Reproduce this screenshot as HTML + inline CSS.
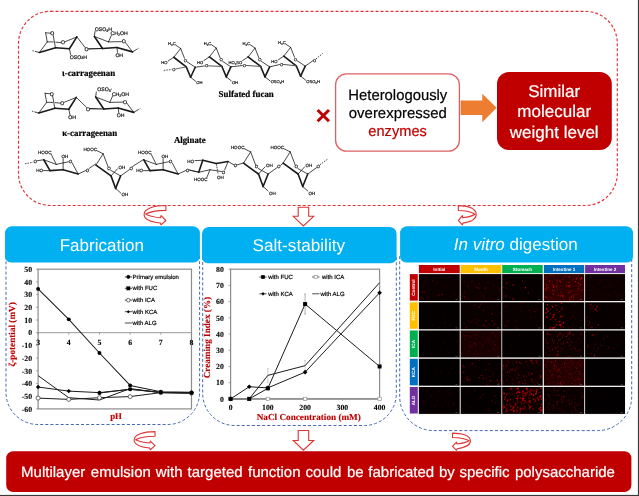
<!DOCTYPE html>
<html lang="en">
<head>
<meta charset="utf-8">
<title>Graphical abstract</title>
<style>
html,body{margin:0;padding:0;background:#fff;}
body{width:639px;height:496px;overflow:hidden;font-family:'Liberation Sans', sans-serif;}
svg{display:block;}
text{white-space:pre;}
</style>
</head>
<body>
<svg width="639" height="496" viewBox="0 0 639 496" text-rendering="geometricPrecision">
<rect x="0" y="0" width="639" height="496" fill="#fff"/>
<rect x="18.5" y="11.3" width="598.8" height="194.2" rx="32" ry="32" fill="none" stroke="#E23238" stroke-width="1.15" stroke-dasharray="3 2"/>
<line x1="32.5" y1="50.62" x2="36" y2="51.62" stroke="#1a1a1a" stroke-width="0.8" stroke-dasharray="1.5 1.1" stroke-linecap="butt"/>
<line x1="36" y1="51.62" x2="39.38" y2="52.5" stroke="#1a1a1a" stroke-width="0.8" stroke-linecap="round"/>
<line x1="39.38" y1="52.5" x2="47.25" y2="41.88" stroke="#1a1a1a" stroke-width="0.8" stroke-linecap="round"/>
<line x1="47.25" y1="41.88" x2="45.62" y2="32.75" stroke="#1a1a1a" stroke-width="0.8" stroke-linecap="round"/>
<line x1="45.62" y1="32.75" x2="50.38" y2="33.25" stroke="#1a1a1a" stroke-width="0.8" stroke-linecap="round"/>
<line x1="53.25" y1="35.5" x2="55.38" y2="47.5" stroke="#1a1a1a" stroke-width="0.8" stroke-linecap="round"/>
<line x1="47.25" y1="41.88" x2="53.25" y2="41.88" stroke="#1a1a1a" stroke-width="0.8" stroke-linecap="round"/>
<line x1="55.75" y1="42.12" x2="60.75" y2="42.62" stroke="#1a1a1a" stroke-width="0.8" stroke-linecap="round"/>
<line x1="65" y1="41.75" x2="76.88" y2="36.88" stroke="#1a1a1a" stroke-width="0.8" stroke-linecap="round"/>
<line x1="76.88" y1="36.88" x2="69.38" y2="48.75" stroke="#1a1a1a" stroke-width="1.6" stroke-linecap="round"/>
<line x1="39.38" y1="52.5" x2="55.62" y2="47.75" stroke="#1a1a1a" stroke-width="1.6" stroke-linecap="round"/>
<line x1="55.62" y1="47.75" x2="69.38" y2="48.75" stroke="#1a1a1a" stroke-width="1.6" stroke-linecap="round"/>
<line x1="69.38" y1="48.75" x2="70.62" y2="54.5" stroke="#1a1a1a" stroke-width="0.8" stroke-linecap="round"/>
<line x1="76.88" y1="36.88" x2="85.12" y2="47.52" stroke="#1a1a1a" stroke-width="0.8" stroke-linecap="round"/>
<line x1="88.62" y1="48.92" x2="102.5" y2="48.5" stroke="#1a1a1a" stroke-width="1.1" stroke-linecap="round"/>
<line x1="102.5" y1="48.5" x2="94.38" y2="36.5" stroke="#1a1a1a" stroke-width="1.6" stroke-linecap="round"/>
<line x1="94.38" y1="36.5" x2="95" y2="31.5" stroke="#1a1a1a" stroke-width="0.8" stroke-linecap="round"/>
<line x1="94.38" y1="36.5" x2="108.5" y2="41.88" stroke="#1a1a1a" stroke-width="0.8" stroke-linecap="round"/>
<line x1="108.5" y1="41.88" x2="121.5" y2="41.62" stroke="#1a1a1a" stroke-width="0.8" stroke-linecap="round"/>
<line x1="108.5" y1="41.88" x2="111.25" y2="35.62" stroke="#1a1a1a" stroke-width="0.8" stroke-linecap="round"/>
<line x1="125.62" y1="42.75" x2="132.5" y2="51.88" stroke="#1a1a1a" stroke-width="0.8" stroke-linecap="round"/>
<line x1="102.5" y1="48.5" x2="116.88" y2="47.5" stroke="#1a1a1a" stroke-width="1.6" stroke-linecap="round"/>
<line x1="116.88" y1="47.5" x2="132.5" y2="51.88" stroke="#1a1a1a" stroke-width="1.6" stroke-linecap="round"/>
<line x1="116.88" y1="47.5" x2="117.5" y2="52.25" stroke="#1a1a1a" stroke-width="0.8" stroke-linecap="round"/>
<line x1="132.5" y1="51.88" x2="136.25" y2="49.62" stroke="#1a1a1a" stroke-width="0.8" stroke-linecap="round"/>
<line x1="136.25" y1="49.62" x2="139" y2="48" stroke="#1a1a1a" stroke-width="0.8" stroke-dasharray="1.5 1.1" stroke-linecap="butt"/>
<line x1="31.9" y1="111.12" x2="35.4" y2="112.12" stroke="#1a1a1a" stroke-width="0.8" stroke-dasharray="1.5 1.1" stroke-linecap="butt"/>
<line x1="35.4" y1="112.12" x2="38.77" y2="113" stroke="#1a1a1a" stroke-width="0.8" stroke-linecap="round"/>
<line x1="38.77" y1="113" x2="46.65" y2="102.38" stroke="#1a1a1a" stroke-width="0.8" stroke-linecap="round"/>
<line x1="46.65" y1="102.38" x2="45.02" y2="93.25" stroke="#1a1a1a" stroke-width="0.8" stroke-linecap="round"/>
<line x1="45.02" y1="93.25" x2="49.77" y2="93.75" stroke="#1a1a1a" stroke-width="0.8" stroke-linecap="round"/>
<line x1="52.65" y1="96" x2="54.77" y2="108" stroke="#1a1a1a" stroke-width="0.8" stroke-linecap="round"/>
<line x1="46.65" y1="102.38" x2="52.65" y2="102.38" stroke="#1a1a1a" stroke-width="0.8" stroke-linecap="round"/>
<line x1="55.15" y1="102.62" x2="60.15" y2="103.12" stroke="#1a1a1a" stroke-width="0.8" stroke-linecap="round"/>
<line x1="64.4" y1="102.25" x2="76.28" y2="97.38" stroke="#1a1a1a" stroke-width="0.8" stroke-linecap="round"/>
<line x1="76.28" y1="97.38" x2="68.78" y2="109.25" stroke="#1a1a1a" stroke-width="1.6" stroke-linecap="round"/>
<line x1="38.77" y1="113" x2="55.02" y2="108.25" stroke="#1a1a1a" stroke-width="1.6" stroke-linecap="round"/>
<line x1="55.02" y1="108.25" x2="68.78" y2="109.25" stroke="#1a1a1a" stroke-width="1.6" stroke-linecap="round"/>
<line x1="68.78" y1="109.25" x2="70.03" y2="115" stroke="#1a1a1a" stroke-width="0.8" stroke-linecap="round"/>
<line x1="76.28" y1="97.38" x2="86.4" y2="107.2" stroke="#1a1a1a" stroke-width="0.8" stroke-linecap="round"/>
<line x1="89.9" y1="108.6" x2="103.8" y2="109" stroke="#1a1a1a" stroke-width="1.1" stroke-linecap="round"/>
<line x1="103.8" y1="109" x2="95.67" y2="97" stroke="#1a1a1a" stroke-width="1.6" stroke-linecap="round"/>
<line x1="95.67" y1="97" x2="96.3" y2="92" stroke="#1a1a1a" stroke-width="0.8" stroke-linecap="round"/>
<line x1="95.67" y1="97" x2="109.8" y2="102.38" stroke="#1a1a1a" stroke-width="0.8" stroke-linecap="round"/>
<line x1="109.8" y1="102.38" x2="122.8" y2="102.12" stroke="#1a1a1a" stroke-width="0.8" stroke-linecap="round"/>
<line x1="109.8" y1="102.38" x2="112.55" y2="96.12" stroke="#1a1a1a" stroke-width="0.8" stroke-linecap="round"/>
<line x1="126.92" y1="103.25" x2="133.8" y2="112.38" stroke="#1a1a1a" stroke-width="0.8" stroke-linecap="round"/>
<line x1="103.8" y1="109" x2="118.17" y2="108" stroke="#1a1a1a" stroke-width="1.6" stroke-linecap="round"/>
<line x1="118.17" y1="108" x2="133.8" y2="112.38" stroke="#1a1a1a" stroke-width="1.6" stroke-linecap="round"/>
<line x1="118.17" y1="108" x2="118.8" y2="112.75" stroke="#1a1a1a" stroke-width="0.8" stroke-linecap="round"/>
<line x1="133.8" y1="112.38" x2="137.55" y2="110.12" stroke="#1a1a1a" stroke-width="0.8" stroke-linecap="round"/>
<line x1="137.55" y1="110.12" x2="140.3" y2="108.5" stroke="#1a1a1a" stroke-width="0.8" stroke-dasharray="1.5 1.1" stroke-linecap="butt"/>
<line x1="175.62" y1="45" x2="180.62" y2="48.5" stroke="#1a1a1a" stroke-width="0.8" stroke-linecap="round"/>
<line x1="180.62" y1="48.5" x2="173.75" y2="57.25" stroke="#1a1a1a" stroke-width="0.8" stroke-linecap="round"/>
<line x1="180.62" y1="48.5" x2="184.5" y2="58.25" stroke="#1a1a1a" stroke-width="0.8" stroke-linecap="round"/>
<line x1="173.75" y1="57.25" x2="168.12" y2="61" stroke="#1a1a1a" stroke-width="0.8" stroke-linecap="round"/>
<line x1="173.75" y1="57.25" x2="186.25" y2="66.88" stroke="#1a1a1a" stroke-width="1.6" stroke-linecap="round"/>
<line x1="187" y1="61.75" x2="195.25" y2="67.25" stroke="#1a1a1a" stroke-width="0.8" stroke-linecap="round"/>
<line x1="186.25" y1="66.88" x2="190.62" y2="77.25" stroke="#1a1a1a" stroke-width="1.6" stroke-linecap="round"/>
<line x1="195.25" y1="67.25" x2="190.62" y2="77.25" stroke="#1a1a1a" stroke-width="1.6" stroke-linecap="round"/>
<line x1="190.62" y1="77.25" x2="195.62" y2="81.25" stroke="#1a1a1a" stroke-width="0.8" stroke-linecap="round"/>
<line x1="186.25" y1="66.88" x2="175.75" y2="69" stroke="#555" stroke-width="0.9" stroke-linecap="round"/>
<line x1="163.75" y1="70.38" x2="171.75" y2="69.5" stroke="#1a1a1a" stroke-width="0.8" stroke-dasharray="1.5 1.1" stroke-linecap="butt"/>
<line x1="211.28" y1="44.6" x2="216.28" y2="48.1" stroke="#1a1a1a" stroke-width="0.8" stroke-linecap="round"/>
<line x1="216.28" y1="48.1" x2="209.4" y2="56.85" stroke="#1a1a1a" stroke-width="0.8" stroke-linecap="round"/>
<line x1="216.28" y1="48.1" x2="220.15" y2="57.85" stroke="#1a1a1a" stroke-width="0.8" stroke-linecap="round"/>
<line x1="209.4" y1="56.85" x2="203.78" y2="60.6" stroke="#1a1a1a" stroke-width="0.8" stroke-linecap="round"/>
<line x1="209.4" y1="56.85" x2="221.9" y2="66.47" stroke="#1a1a1a" stroke-width="1.6" stroke-linecap="round"/>
<line x1="222.65" y1="61.35" x2="230.9" y2="66.85" stroke="#1a1a1a" stroke-width="0.8" stroke-linecap="round"/>
<line x1="221.9" y1="66.47" x2="226.28" y2="76.85" stroke="#1a1a1a" stroke-width="1.6" stroke-linecap="round"/>
<line x1="230.9" y1="66.85" x2="226.28" y2="76.85" stroke="#1a1a1a" stroke-width="1.6" stroke-linecap="round"/>
<line x1="226.28" y1="76.85" x2="231.28" y2="80.85" stroke="#1a1a1a" stroke-width="0.8" stroke-linecap="round"/>
<line x1="250.03" y1="44.6" x2="255.03" y2="48.1" stroke="#1a1a1a" stroke-width="0.8" stroke-linecap="round"/>
<line x1="255.03" y1="48.1" x2="248.15" y2="56.85" stroke="#1a1a1a" stroke-width="0.8" stroke-linecap="round"/>
<line x1="255.03" y1="48.1" x2="258.9" y2="57.85" stroke="#1a1a1a" stroke-width="0.8" stroke-linecap="round"/>
<line x1="248.15" y1="56.85" x2="242.53" y2="60.6" stroke="#1a1a1a" stroke-width="0.8" stroke-linecap="round"/>
<line x1="248.15" y1="56.85" x2="260.65" y2="66.47" stroke="#1a1a1a" stroke-width="1.6" stroke-linecap="round"/>
<line x1="261.4" y1="61.35" x2="269.65" y2="66.85" stroke="#1a1a1a" stroke-width="0.8" stroke-linecap="round"/>
<line x1="260.65" y1="66.47" x2="265.02" y2="76.85" stroke="#1a1a1a" stroke-width="1.6" stroke-linecap="round"/>
<line x1="269.65" y1="66.85" x2="265.02" y2="76.85" stroke="#1a1a1a" stroke-width="1.6" stroke-linecap="round"/>
<line x1="265.02" y1="76.85" x2="270.02" y2="80.85" stroke="#1a1a1a" stroke-width="0.8" stroke-linecap="round"/>
<line x1="285.62" y1="43.9" x2="290.62" y2="47.4" stroke="#1a1a1a" stroke-width="0.8" stroke-linecap="round"/>
<line x1="290.62" y1="47.4" x2="283.75" y2="56.15" stroke="#1a1a1a" stroke-width="0.8" stroke-linecap="round"/>
<line x1="290.62" y1="47.4" x2="294.5" y2="57.15" stroke="#1a1a1a" stroke-width="0.8" stroke-linecap="round"/>
<line x1="283.75" y1="56.15" x2="278.12" y2="59.9" stroke="#1a1a1a" stroke-width="0.8" stroke-linecap="round"/>
<line x1="283.75" y1="56.15" x2="296.25" y2="65.78" stroke="#1a1a1a" stroke-width="1.6" stroke-linecap="round"/>
<line x1="297" y1="60.65" x2="305.25" y2="66.15" stroke="#1a1a1a" stroke-width="0.8" stroke-linecap="round"/>
<line x1="296.25" y1="65.78" x2="300.62" y2="76.15" stroke="#1a1a1a" stroke-width="1.6" stroke-linecap="round"/>
<line x1="305.25" y1="66.15" x2="300.62" y2="76.15" stroke="#1a1a1a" stroke-width="1.6" stroke-linecap="round"/>
<line x1="300.62" y1="76.15" x2="305.62" y2="80.15" stroke="#1a1a1a" stroke-width="0.8" stroke-linecap="round"/>
<line x1="305.25" y1="66.15" x2="313" y2="60.65" stroke="#1a1a1a" stroke-width="0.8" stroke-linecap="round"/>
<line x1="316" y1="58.9" x2="322.75" y2="53.4" stroke="#1a1a1a" stroke-width="0.8" stroke-dasharray="1.5 1.1" stroke-linecap="butt"/>
<line x1="195.25" y1="67.25" x2="204.5" y2="65.95" stroke="#1a1a1a" stroke-width="0.8" stroke-linecap="round"/>
<line x1="208.4" y1="65.85" x2="221.9" y2="66.47" stroke="#555" stroke-width="1.0" stroke-linecap="round"/>
<line x1="230.9" y1="66.85" x2="242.4" y2="65.55" stroke="#1a1a1a" stroke-width="0.8" stroke-linecap="round"/>
<line x1="246.3" y1="65.45" x2="260.65" y2="66.47" stroke="#555" stroke-width="1.0" stroke-linecap="round"/>
<line x1="269.65" y1="66.85" x2="279.5" y2="64.55" stroke="#1a1a1a" stroke-width="0.8" stroke-linecap="round"/>
<line x1="283.4" y1="64.45" x2="296.25" y2="65.78" stroke="#555" stroke-width="1.0" stroke-linecap="round"/>
<line x1="25" y1="163.75" x2="33" y2="162.25" stroke="#1a1a1a" stroke-width="0.8" stroke-dasharray="1.5 1.1" stroke-linecap="butt"/>
<line x1="37.25" y1="160.75" x2="43.75" y2="159.75" stroke="#1a1a1a" stroke-width="0.8" stroke-linecap="round"/>
<line x1="43.75" y1="159.75" x2="50" y2="170.62" stroke="#1a1a1a" stroke-width="1.6" stroke-linecap="round"/>
<line x1="50" y1="170.62" x2="43.5" y2="170.62" stroke="#1a1a1a" stroke-width="0.8" stroke-linecap="round"/>
<line x1="50" y1="170.62" x2="63.12" y2="169.75" stroke="#1a1a1a" stroke-width="1.6" stroke-linecap="round"/>
<line x1="63.12" y1="169.75" x2="63.12" y2="159" stroke="#1a1a1a" stroke-width="0.8" stroke-linecap="round"/>
<line x1="63.12" y1="169.75" x2="78.12" y2="174" stroke="#1a1a1a" stroke-width="1.6" stroke-linecap="round"/>
<line x1="43.75" y1="159.75" x2="56.25" y2="164.38" stroke="#1a1a1a" stroke-width="0.8" stroke-linecap="round"/>
<line x1="56.25" y1="164.38" x2="51.25" y2="154.38" stroke="#1a1a1a" stroke-width="0.8" stroke-linecap="round"/>
<line x1="56.25" y1="164.38" x2="68.5" y2="161.75" stroke="#1a1a1a" stroke-width="0.8" stroke-linecap="round"/>
<line x1="72.25" y1="163" x2="78.12" y2="174" stroke="#1a1a1a" stroke-width="0.8" stroke-linecap="round"/>
<line x1="78.12" y1="174" x2="85.62" y2="170.62" stroke="#1a1a1a" stroke-width="0.8" stroke-linecap="round"/>
<line x1="89" y1="168.5" x2="95.62" y2="164" stroke="#1a1a1a" stroke-width="0.8" stroke-linecap="round"/>
<line x1="96.88" y1="150.65" x2="103.12" y2="153.78" stroke="#1a1a1a" stroke-width="0.8" stroke-linecap="round"/>
<line x1="103.12" y1="153.78" x2="96" y2="165.03" stroke="#1a1a1a" stroke-width="0.8" stroke-linecap="round"/>
<line x1="103.12" y1="153.78" x2="108.12" y2="166.9" stroke="#1a1a1a" stroke-width="0.8" stroke-linecap="round"/>
<line x1="96" y1="165.03" x2="111" y2="175.9" stroke="#1a1a1a" stroke-width="1.6" stroke-linecap="round"/>
<line x1="111" y1="175.9" x2="115.62" y2="188.4" stroke="#1a1a1a" stroke-width="1.6" stroke-linecap="round"/>
<line x1="115.62" y1="188.4" x2="120.62" y2="175.9" stroke="#1a1a1a" stroke-width="1.6" stroke-linecap="round"/>
<line x1="110.75" y1="170.4" x2="120.62" y2="175.9" stroke="#1a1a1a" stroke-width="0.8" stroke-linecap="round"/>
<line x1="111" y1="175.9" x2="117.5" y2="168.78" stroke="#1a1a1a" stroke-width="0.8" stroke-linecap="round"/>
<line x1="115.62" y1="188.4" x2="120.62" y2="192.9" stroke="#1a1a1a" stroke-width="0.8" stroke-linecap="round"/>
<line x1="120.62" y1="175.9" x2="129.38" y2="169.65" stroke="#1a1a1a" stroke-width="0.8" stroke-linecap="round"/>
<line x1="132.5" y1="166.5" x2="143.12" y2="159.75" stroke="#1a1a1a" stroke-width="0.8" stroke-linecap="round"/>
<line x1="143.75" y1="159.75" x2="150" y2="170.62" stroke="#1a1a1a" stroke-width="1.6" stroke-linecap="round"/>
<line x1="150" y1="170.62" x2="143.5" y2="170.62" stroke="#1a1a1a" stroke-width="0.8" stroke-linecap="round"/>
<line x1="150" y1="170.62" x2="163.12" y2="169.75" stroke="#1a1a1a" stroke-width="1.6" stroke-linecap="round"/>
<line x1="163.12" y1="169.75" x2="163.12" y2="159" stroke="#1a1a1a" stroke-width="0.8" stroke-linecap="round"/>
<line x1="163.12" y1="169.75" x2="178.12" y2="174" stroke="#1a1a1a" stroke-width="1.6" stroke-linecap="round"/>
<line x1="143.75" y1="159.75" x2="156.25" y2="164.38" stroke="#1a1a1a" stroke-width="0.8" stroke-linecap="round"/>
<line x1="156.25" y1="164.38" x2="151.25" y2="154.38" stroke="#1a1a1a" stroke-width="0.8" stroke-linecap="round"/>
<line x1="156.25" y1="164.38" x2="168.5" y2="161.75" stroke="#1a1a1a" stroke-width="0.8" stroke-linecap="round"/>
<line x1="172.25" y1="163" x2="178.12" y2="174" stroke="#1a1a1a" stroke-width="0.8" stroke-linecap="round"/>
<line x1="178.12" y1="174" x2="185.62" y2="170.62" stroke="#1a1a1a" stroke-width="0.8" stroke-linecap="round"/>
<line x1="189.38" y1="170" x2="198.5" y2="172" stroke="#1a1a1a" stroke-width="0.8" stroke-linecap="round"/>
<line x1="189.75" y1="170.25" x2="198.75" y2="172.25" stroke="#1a1a1a" stroke-width="0.8" stroke-linecap="round"/>
<line x1="198.75" y1="172.25" x2="202.75" y2="160.25" stroke="#1a1a1a" stroke-width="1.6" stroke-linecap="round"/>
<line x1="202.75" y1="160.25" x2="195" y2="160.62" stroke="#1a1a1a" stroke-width="0.8" stroke-linecap="round"/>
<line x1="202.75" y1="160.25" x2="216.25" y2="163.5" stroke="#1a1a1a" stroke-width="1.6" stroke-linecap="round"/>
<line x1="216.25" y1="163.5" x2="228.12" y2="161.5" stroke="#1a1a1a" stroke-width="1.6" stroke-linecap="round"/>
<line x1="216.25" y1="163.5" x2="218.12" y2="174" stroke="#1a1a1a" stroke-width="0.8" stroke-dasharray="1.2 0.6" stroke-linecap="butt"/>
<line x1="198.75" y1="172.25" x2="210" y2="169.75" stroke="#1a1a1a" stroke-width="0.8" stroke-linecap="round"/>
<line x1="210" y1="169.75" x2="206.88" y2="177.5" stroke="#1a1a1a" stroke-width="0.8" stroke-linecap="round"/>
<line x1="210" y1="169.75" x2="221.5" y2="171.5" stroke="#1a1a1a" stroke-width="0.8" stroke-linecap="round"/>
<line x1="224.62" y1="170" x2="228.12" y2="161.5" stroke="#1a1a1a" stroke-width="0.8" stroke-linecap="round"/>
<line x1="228.12" y1="161.5" x2="233.75" y2="164.75" stroke="#1a1a1a" stroke-width="0.8" stroke-linecap="round"/>
<line x1="237.5" y1="164.75" x2="243.12" y2="163.12" stroke="#1a1a1a" stroke-width="0.8" stroke-linecap="round"/>
<line x1="244.38" y1="148.75" x2="250.62" y2="151.88" stroke="#1a1a1a" stroke-width="0.8" stroke-linecap="round"/>
<line x1="250.62" y1="151.88" x2="243.5" y2="163.12" stroke="#1a1a1a" stroke-width="0.8" stroke-linecap="round"/>
<line x1="250.62" y1="151.88" x2="255.62" y2="165" stroke="#1a1a1a" stroke-width="0.8" stroke-linecap="round"/>
<line x1="243.5" y1="163.12" x2="258.5" y2="174" stroke="#1a1a1a" stroke-width="1.6" stroke-linecap="round"/>
<line x1="258.5" y1="174" x2="263.12" y2="186.5" stroke="#1a1a1a" stroke-width="1.6" stroke-linecap="round"/>
<line x1="263.12" y1="186.5" x2="268.12" y2="174" stroke="#1a1a1a" stroke-width="1.6" stroke-linecap="round"/>
<line x1="258.25" y1="168.5" x2="268.12" y2="174" stroke="#1a1a1a" stroke-width="0.8" stroke-linecap="round"/>
<line x1="258.5" y1="174" x2="265" y2="166.88" stroke="#1a1a1a" stroke-width="0.8" stroke-linecap="round"/>
<line x1="263.12" y1="186.5" x2="268.12" y2="191" stroke="#1a1a1a" stroke-width="0.8" stroke-linecap="round"/>
<line x1="268.12" y1="174" x2="276.88" y2="167.75" stroke="#1a1a1a" stroke-width="0.8" stroke-linecap="round"/>
<line x1="280.62" y1="165.25" x2="283.12" y2="163.12" stroke="#1a1a1a" stroke-width="0.8" stroke-linecap="round"/>
<line x1="283.98" y1="148.75" x2="290.23" y2="151.88" stroke="#1a1a1a" stroke-width="0.8" stroke-linecap="round"/>
<line x1="290.23" y1="151.88" x2="283.1" y2="163.12" stroke="#1a1a1a" stroke-width="0.8" stroke-linecap="round"/>
<line x1="290.23" y1="151.88" x2="295.23" y2="165" stroke="#1a1a1a" stroke-width="0.8" stroke-linecap="round"/>
<line x1="283.1" y1="163.12" x2="298.1" y2="174" stroke="#1a1a1a" stroke-width="1.6" stroke-linecap="round"/>
<line x1="298.1" y1="174" x2="302.73" y2="186.5" stroke="#1a1a1a" stroke-width="1.6" stroke-linecap="round"/>
<line x1="302.73" y1="186.5" x2="307.73" y2="174" stroke="#1a1a1a" stroke-width="1.6" stroke-linecap="round"/>
<line x1="297.85" y1="168.5" x2="307.73" y2="174" stroke="#1a1a1a" stroke-width="0.8" stroke-linecap="round"/>
<line x1="298.1" y1="174" x2="304.6" y2="166.88" stroke="#1a1a1a" stroke-width="0.8" stroke-linecap="round"/>
<line x1="302.73" y1="186.5" x2="307.73" y2="191" stroke="#1a1a1a" stroke-width="0.8" stroke-linecap="round"/>
<line x1="307.73" y1="174" x2="316.48" y2="167.75" stroke="#1a1a1a" stroke-width="0.8" stroke-linecap="round"/>
<line x1="319.85" y1="164.75" x2="328.1" y2="158.75" stroke="#1a1a1a" stroke-width="0.8" stroke-dasharray="1.5 1.1" stroke-linecap="butt"/>
<g font-family="'Liberation Sans', sans-serif" fill="#000" stroke="#000" stroke-width="0.16">
<text x="52.25" y="35" font-size="5.15" text-anchor="middle">O</text>
<text x="62.88" y="44.38" font-size="5.15" text-anchor="middle">O</text>
<text x="69.75" y="58.5" font-size="5.15" text-anchor="start">OSO<tspan font-size="70%" dy="0.9">3</tspan><tspan dy="-0.9">H</tspan></text>
<text x="86.62" y="50.83" font-size="5.15" text-anchor="middle">O</text>
<text x="94.75" y="30.75" font-size="5.15" text-anchor="start">OSO<tspan font-size="70%" dy="0.9">3</tspan><tspan dy="-0.9">H</tspan></text>
<text x="123.75" y="43.25" font-size="5.15" text-anchor="middle">O</text>
<text x="110.62" y="35.25" font-size="5.15" text-anchor="start">CH<tspan font-size="70%" dy="0.9">2</tspan><tspan dy="-0.9">OH</tspan></text>
<text x="115.38" y="56.62" font-size="5.15" text-anchor="start">OH</text>
<text x="51.65" y="95.5" font-size="5.15" text-anchor="middle">O</text>
<text x="62.27" y="104.88" font-size="5.15" text-anchor="middle">O</text>
<text x="68.15" y="119.25" font-size="5.15" text-anchor="start">OH</text>
<text x="87.9" y="110.5" font-size="5.15" text-anchor="middle">O</text>
<text x="97.3" y="91.25" font-size="5.15" text-anchor="start">OSO<tspan font-size="70%" dy="0.9">3</tspan><tspan dy="-2.4" font-size="70%">-</tspan></text>
<text x="125.05" y="103.75" font-size="5.15" text-anchor="middle">O</text>
<text x="111.92" y="95.75" font-size="5.15" text-anchor="start">CH<tspan font-size="70%" dy="0.9">2</tspan><tspan dy="-0.9">OH</tspan></text>
<text x="116.67" y="117.12" font-size="5.15" text-anchor="start">OH</text>
<text x="168.12" y="45" font-size="4.1" text-anchor="start">H<tspan font-size="70%" dy="0.9">3</tspan><tspan dy="-0.9">C</tspan></text>
<text x="185.38" y="61.75" font-size="4.1" text-anchor="middle">O</text>
<text x="167.5" y="64.38" font-size="4.1" text-anchor="end">HO</text>
<text x="196.25" y="84.12" font-size="4.1" text-anchor="start">OH</text>
<text x="173.75" y="71.12" font-size="4.1" text-anchor="middle">O</text>
<text x="203.78" y="44.6" font-size="4.1" text-anchor="start">H<tspan font-size="70%" dy="0.9">3</tspan><tspan dy="-0.9">C</tspan></text>
<text x="221.03" y="61.35" font-size="4.1" text-anchor="middle">O</text>
<text x="203.15" y="63.98" font-size="4.1" text-anchor="end">HO</text>
<text x="231.9" y="83.72" font-size="4.1" text-anchor="start">OH</text>
<text x="242.53" y="44.6" font-size="4.1" text-anchor="start">H<tspan font-size="70%" dy="0.9">3</tspan><tspan dy="-0.9">C</tspan></text>
<text x="259.77" y="61.35" font-size="4.1" text-anchor="middle">O</text>
<text x="242.15" y="63.6" font-size="4.1" text-anchor="end">HO<tspan font-size="70%" dy="0.9">3</tspan><tspan dy="-0.9">SO</tspan></text>
<text x="270.65" y="83.47" font-size="4.1" text-anchor="start">OSO<tspan font-size="70%" dy="0.9">3</tspan><tspan dy="-0.9">H</tspan></text>
<text x="278.12" y="43.9" font-size="4.1" text-anchor="start">H<tspan font-size="70%" dy="0.9">3</tspan><tspan dy="-0.9">C</tspan></text>
<text x="295.38" y="60.65" font-size="4.1" text-anchor="middle">O</text>
<text x="277.5" y="63.27" font-size="4.1" text-anchor="end">HO</text>
<text x="306.25" y="82.78" font-size="4.1" text-anchor="start">OSO<tspan font-size="70%" dy="0.9">3</tspan><tspan dy="-0.9">H</tspan></text>
<text x="314.5" y="61.9" font-size="4.1" text-anchor="middle">O</text>
<text x="206.5" y="67.2" font-size="4.1" text-anchor="middle">O</text>
<text x="244.4" y="66.8" font-size="4.1" text-anchor="middle">O</text>
<text x="281.5" y="65.8" font-size="4.1" text-anchor="middle">O</text>
<text x="35.25" y="163.25" font-size="4.5" text-anchor="middle">O</text>
<text x="43" y="172.25" font-size="4.5" text-anchor="end">HO</text>
<text x="61.62" y="157.75" font-size="4.5" text-anchor="start">OH</text>
<text x="38.12" y="154.38" font-size="4.5" text-anchor="start">HOOC</text>
<text x="70.62" y="163.25" font-size="4.5" text-anchor="middle">O</text>
<text x="87.5" y="171.5" font-size="4.5" text-anchor="middle">O</text>
<text x="83.38" y="151.28" font-size="4.5" text-anchor="start">HOOC</text>
<text x="109.12" y="170.15" font-size="4.5" text-anchor="middle">O</text>
<text x="118.5" y="169.15" font-size="4.5" text-anchor="start">OH</text>
<text x="121.5" y="196.4" font-size="4.5" text-anchor="start">OH</text>
<text x="131.25" y="170.15" font-size="4.5" text-anchor="middle">O</text>
<text x="143" y="172.25" font-size="4.5" text-anchor="end">HO</text>
<text x="161.62" y="157.75" font-size="4.5" text-anchor="start">OH</text>
<text x="138.12" y="154.38" font-size="4.5" text-anchor="start">HOOC</text>
<text x="170.62" y="163.25" font-size="4.5" text-anchor="middle">O</text>
<text x="187.5" y="171.5" font-size="4.5" text-anchor="middle">O</text>
<text x="194" y="162.5" font-size="4.5" text-anchor="end">HO</text>
<text x="216.88" y="178.5" font-size="4.5" text-anchor="start">OH</text>
<text x="207.5" y="181" font-size="4.5" text-anchor="end">HOOC</text>
<text x="223.5" y="173.5" font-size="4.5" text-anchor="middle">O</text>
<text x="235.62" y="167.25" font-size="4.5" text-anchor="middle">O</text>
<text x="230.88" y="149.38" font-size="4.5" text-anchor="start">HOOC</text>
<text x="256.62" y="168.25" font-size="4.5" text-anchor="middle">O</text>
<text x="266" y="167.25" font-size="4.5" text-anchor="start">OH</text>
<text x="269" y="194.5" font-size="4.5" text-anchor="start">OH</text>
<text x="278.75" y="168.25" font-size="4.5" text-anchor="middle">O</text>
<text x="270.48" y="149.38" font-size="4.5" text-anchor="start">HOOC</text>
<text x="296.23" y="168.25" font-size="4.5" text-anchor="middle">O</text>
<text x="305.6" y="167.25" font-size="4.5" text-anchor="start">OH</text>
<text x="308.6" y="194.5" font-size="4.5" text-anchor="start">OH</text>
<text x="318.35" y="168.25" font-size="4.5" text-anchor="middle">O</text>
</g>
<g font-family="'Liberation Serif', serif" font-weight="bold" font-size="9.1" fill="#000" stroke="#000" stroke-width="0.2">
<text x="61.9" y="75.8" textLength="53.4" lengthAdjust="spacingAndGlyphs">ι-carrageenan</text>
<text x="62.2" y="135.8" textLength="55" lengthAdjust="spacingAndGlyphs">κ-carrageenan</text>
<text x="218.6" y="96.5" textLength="55.2" lengthAdjust="spacingAndGlyphs">Sulfated fucan</text>
<text x="173.9" y="142.8" textLength="31.8" lengthAdjust="spacingAndGlyphs">Alginate</text>
</g>
<g stroke="#C00000" stroke-width="3" stroke-linecap="butt"><line x1="317.6" y1="110" x2="329" y2="121.2"/><line x1="329" y1="110" x2="317.6" y2="121.2"/></g>
<rect x="335.6" y="73.8" width="123.8" height="77.4" rx="11" ry="11" fill="#fff" stroke="#E06060" stroke-width="1.3"/>
<g font-family="'Liberation Sans', sans-serif" font-size="15" text-anchor="middle">
<text x="397.8" y="100" fill="#000" stroke="#000" stroke-width="0.2" textLength="99" lengthAdjust="spacingAndGlyphs">Heterologously</text>
<text x="397.8" y="117.6" fill="#000" stroke="#000" stroke-width="0.2" textLength="98" lengthAdjust="spacingAndGlyphs">overexpressed</text>
<text x="397.6" y="135.8" fill="#C00000" stroke="#C00000" stroke-width="0.2" textLength="58.5" lengthAdjust="spacingAndGlyphs">enzymes</text>
</g>
<path d="M460.6 100.6 H482.3 V93.7 L496.6 107.8 L482.3 122.2 V115 H460.6 Z" fill="#ED7D31"/>
<rect x="497" y="72" width="114.8" height="78" rx="12" ry="12" fill="#C00000"/>
<g font-family="'Liberation Sans', sans-serif" font-size="17" fill="#fff" stroke="#fff" stroke-width="0.2" text-anchor="middle">
<text x="554.2" y="96.5">Similar</text>
<text x="554.2" y="117">molecular</text>
<text x="554.2" y="137.6">weight level</text>
</g>
<path transform="translate(144 205.5) scale(1 1)" d="M21.9 0 C10 0 0.1 3 0.1 8.9 C0.1 14 8 16.5 16.3 17.5 L17 19.3 L21.9 15 L17 10.1 L16.6 12.2 C10 11.5 4.5 10.3 1.7 8.6 C5.5 6.4 12 5.1 21.9 4.9 Z" fill="#fff" stroke="#DE3434" stroke-width="1.1" stroke-linejoin="round" vector-effect="non-scaling-stroke"/>
<path d="M298.2 207.2 H308.7 V216.3 H313.7 L303.4 226 L293.3 216.3 H298.2 Z" fill="#fff" stroke="#DE3434" stroke-width="1.1" stroke-linejoin="miter"/>
<path transform="translate(476.3 205.6) scale(-0.82 1)" d="M21.9 0 C10 0 0.1 3 0.1 8.9 C0.1 14 8 16.5 16.3 17.5 L17 19.3 L21.9 15 L17 10.1 L16.6 12.2 C10 11.5 4.5 10.3 1.7 8.6 C5.5 6.4 12 5.1 21.9 4.9 Z" fill="#fff" stroke="#DE3434" stroke-width="1.1" stroke-linejoin="round" vector-effect="non-scaling-stroke"/>
<path transform="translate(134 431.6) scale(0.96 0.94)" d="M21.9 0 C10 0 0.1 3 0.1 8.9 C0.1 14 8 16.5 16.3 17.5 L17 19.3 L21.9 15 L17 10.1 L16.6 12.2 C10 11.5 4.5 10.3 1.7 8.6 C5.5 6.4 12 5.1 21.9 4.9 Z" fill="#fff" stroke="#DE3434" stroke-width="1.1" stroke-linejoin="round" vector-effect="non-scaling-stroke"/>
<path d="M298.2 430.5 H308.7 V440.5 H313.7 L303.4 450.2 L293.3 440.5 H298.2 Z" fill="#fff" stroke="#DE3434" stroke-width="1.1" stroke-linejoin="miter"/>
<path transform="translate(470.5 433.1) scale(-0.82 0.89)" d="M21.9 0 C10 0 0.1 3 0.1 8.9 C0.1 14 8 16.5 16.3 17.5 L17 19.3 L21.9 15 L17 10.1 L16.6 12.2 C10 11.5 4.5 10.3 1.7 8.6 C5.5 6.4 12 5.1 21.9 4.9 Z" fill="#fff" stroke="#DE3434" stroke-width="1.1" stroke-linejoin="round" vector-effect="non-scaling-stroke"/>
<path d="M6 256.2 V392.5 A32 32 0 0 0 38 424.5 H167.6 A32 32 0 0 0 199.6 392.5 V256.2" fill="none" stroke="#4568B6" stroke-width="1.0" stroke-dasharray="3 2.1"/>
<path d="M12 226.2 H192.9 A7 7 0 0 1 199.9 233.2 V256.55 A6 6 0 0 1 193.9 262.55 H11 A6 6 0 0 1 5 256.55 V233.2 A7 7 0 0 1 12 226.2 Z" fill="#00B0F0"/>
<text x="101.8" y="250.6" font-family="'Liberation Sans', sans-serif" font-size="17" fill="#fff" text-anchor="middle">Fabrication</text>
<path d="M202.7 256.9 V393.5 A32 32 0 0 0 234.7 425.5 H364.3 A32 32 0 0 0 396.3 393.5 V256.9" fill="none" stroke="#4568B6" stroke-width="1.0" stroke-dasharray="3 2.1"/>
<path d="M209 226.9 H389.6 A7 7 0 0 1 396.6 233.9 V257.25 A6 6 0 0 1 390.6 263.25 H208 A6 6 0 0 1 202 257.25 V233.9 A7 7 0 0 1 209 226.9 Z" fill="#00B0F0"/>
<text x="298.8" y="251" font-family="'Liberation Sans', sans-serif" font-size="17" fill="#fff" text-anchor="middle" textLength="92.5" lengthAdjust="spacingAndGlyphs">Salt-stability</text>
<path d="M399.7 256.2 V396.6 A34 34 0 0 0 433.7 430.6 H597.7 A34 34 0 0 0 631.7 396.6 V256.2" fill="none" stroke="#4568B6" stroke-width="1.0" stroke-dasharray="3 2.1"/>
<path d="M407.1 226.2 H626 A7 7 0 0 1 633 233.2 V256.55 A6 6 0 0 1 627 262.55 H406.1 A6 6 0 0 1 400.1 256.55 V233.2 A7 7 0 0 1 407.1 226.2 Z" fill="#00B0F0"/>
<text x="453.8" y="250.2" font-family="'Liberation Sans', sans-serif" font-size="17" fill="#fff"><tspan font-style="italic">In vitro</tspan> digestion</text>
<rect x="38.1" y="269.2" width="153.4" height="139.7" fill="#fff" stroke="#8c8c8c" stroke-width="1.2"/>
<line x1="38.1" y1="332.7" x2="191.5" y2="332.7" stroke="#8c8c8c" stroke-width="0.9"/>
<line x1="36.1" y1="408.9" x2="38.1" y2="408.9" stroke="#8c8c8c" stroke-width="0.8"/>
<line x1="36.1" y1="396.2" x2="38.1" y2="396.2" stroke="#8c8c8c" stroke-width="0.8"/>
<line x1="36.1" y1="383.5" x2="38.1" y2="383.5" stroke="#8c8c8c" stroke-width="0.8"/>
<line x1="36.1" y1="370.8" x2="38.1" y2="370.8" stroke="#8c8c8c" stroke-width="0.8"/>
<line x1="36.1" y1="358.1" x2="38.1" y2="358.1" stroke="#8c8c8c" stroke-width="0.8"/>
<line x1="36.1" y1="345.4" x2="38.1" y2="345.4" stroke="#8c8c8c" stroke-width="0.8"/>
<line x1="36.1" y1="332.7" x2="38.1" y2="332.7" stroke="#8c8c8c" stroke-width="0.8"/>
<line x1="36.1" y1="320" x2="38.1" y2="320" stroke="#8c8c8c" stroke-width="0.8"/>
<line x1="36.1" y1="307.3" x2="38.1" y2="307.3" stroke="#8c8c8c" stroke-width="0.8"/>
<line x1="36.1" y1="294.6" x2="38.1" y2="294.6" stroke="#8c8c8c" stroke-width="0.8"/>
<line x1="36.1" y1="281.9" x2="38.1" y2="281.9" stroke="#8c8c8c" stroke-width="0.8"/>
<line x1="36.1" y1="269.2" x2="38.1" y2="269.2" stroke="#8c8c8c" stroke-width="0.8"/>
<line x1="38.1" y1="332.7" x2="38.1" y2="334.7" stroke="#8c8c8c" stroke-width="0.8"/>
<line x1="68.78" y1="332.7" x2="68.78" y2="334.7" stroke="#8c8c8c" stroke-width="0.8"/>
<line x1="99.46" y1="332.7" x2="99.46" y2="334.7" stroke="#8c8c8c" stroke-width="0.8"/>
<line x1="130.14" y1="332.7" x2="130.14" y2="334.7" stroke="#8c8c8c" stroke-width="0.8"/>
<line x1="160.82" y1="332.7" x2="160.82" y2="334.7" stroke="#8c8c8c" stroke-width="0.8"/>
<line x1="191.5" y1="332.7" x2="191.5" y2="334.7" stroke="#8c8c8c" stroke-width="0.8"/>
<g font-family="'Liberation Serif', serif" font-weight="bold" font-size="7.8" fill="#000" stroke="#000" stroke-width="0.08">
<text x="32.1" y="411.6" text-anchor="end">-60</text>
<text x="32.1" y="398.9" text-anchor="end">-50</text>
<text x="32.1" y="386.2" text-anchor="end">-40</text>
<text x="32.1" y="373.5" text-anchor="end">-30</text>
<text x="32.1" y="360.8" text-anchor="end">-20</text>
<text x="32.1" y="348.1" text-anchor="end">-10</text>
<text x="32.1" y="335.4" text-anchor="end">0</text>
<text x="32.1" y="322.7" text-anchor="end">10</text>
<text x="32.1" y="310" text-anchor="end">20</text>
<text x="32.1" y="297.3" text-anchor="end">30</text>
<text x="32.1" y="284.6" text-anchor="end">40</text>
<text x="32.1" y="271.9" text-anchor="end">50</text>
<text x="38.1" y="344.9" text-anchor="middle">3</text>
<text x="68.78" y="344.9" text-anchor="middle">4</text>
<text x="99.46" y="344.9" text-anchor="middle">5</text>
<text x="130.14" y="344.9" text-anchor="middle">6</text>
<text x="160.82" y="344.9" text-anchor="middle">7</text>
<text x="191.5" y="344.9" text-anchor="middle">8</text>
</g>
<text x="116" y="419.4" font-family="'Liberation Serif', serif" font-weight="bold" font-size="8.8" fill="#C00000" stroke="#C00000" stroke-width="0.12" text-anchor="middle">pH</text>
<text transform="translate(15.2 334.4) rotate(-90)" font-family="'Liberation Serif', serif" font-weight="bold" font-size="9.2" fill="#C00000" stroke="#C00000" stroke-width="0.12" text-anchor="middle">ζ-potential (mV)</text>
<polyline points="38.1,375.63 68.78,397.72 99.46,400.01 130.14,388.58 160.82,392.77 191.5,393.15" fill="none" stroke="#1c1c1c" stroke-width="1.0" stroke-linejoin="round"/>
<polyline points="38.1,398.11 68.78,399.38 99.46,397.72 130.14,396.58 160.82,392.64 191.5,393.02" fill="none" stroke="#1c1c1c" stroke-width="1.0" stroke-linejoin="round"/>
<polyline points="38.1,387.06 68.78,391.12 99.46,392.64 130.14,389.34 160.82,392.39 191.5,392.64" fill="none" stroke="#1c1c1c" stroke-width="1.0" stroke-linejoin="round"/>
<polyline points="99.46,393.02 130.14,389.21 160.82,392.39 191.5,393.02" fill="none" stroke="#1c1c1c" stroke-width="1.0" stroke-linejoin="round"/>
<polyline points="38.1,288.88 68.78,319.37 99.46,353.02 130.14,385.4 160.82,391.75 191.5,392.39" fill="none" stroke="#1c1c1c" stroke-width="1.05" stroke-linejoin="round"/>
<circle cx="38.1" cy="398.11" r="2.0" fill="#fff" stroke="#333" stroke-width="0.7"/>
<circle cx="68.78" cy="399.38" r="2.0" fill="#fff" stroke="#333" stroke-width="0.7"/>
<circle cx="99.46" cy="397.72" r="2.0" fill="#fff" stroke="#333" stroke-width="0.7"/>
<circle cx="130.14" cy="396.58" r="2.0" fill="#fff" stroke="#333" stroke-width="0.7"/>
<circle cx="160.82" cy="392.64" r="2.0" fill="#fff" stroke="#333" stroke-width="0.7"/>
<circle cx="191.5" cy="393.02" r="2.0" fill="#fff" stroke="#333" stroke-width="0.7"/>
<path d="M35.9 387.06 L38.1 384.86 L40.3 387.06 L38.1 389.26 Z" fill="#000"/>
<path d="M66.58 391.12 L68.78 388.92 L70.98 391.12 L68.78 393.32 Z" fill="#000"/>
<path d="M97.26 392.64 L99.46 390.44 L101.66 392.64 L99.46 394.84 Z" fill="#000"/>
<path d="M127.94 389.34 L130.14 387.14 L132.34 389.34 L130.14 391.54 Z" fill="#000"/>
<path d="M158.62 392.39 L160.82 390.19 L163.02 392.39 L160.82 394.59 Z" fill="#000"/>
<path d="M189.3 392.64 L191.5 390.44 L193.7 392.64 L191.5 394.84 Z" fill="#000"/>
<rect x="97.76" y="391.32" width="3.4" height="3.4" fill="#000"/>
<rect x="128.44" y="387.51" width="3.4" height="3.4" fill="#000"/>
<rect x="159.12" y="390.69" width="3.4" height="3.4" fill="#000"/>
<rect x="189.8" y="391.32" width="3.4" height="3.4" fill="#000"/>
<circle cx="38.1" cy="288.88" r="1.95" fill="#000"/>
<circle cx="68.78" cy="319.37" r="1.95" fill="#000"/>
<circle cx="99.46" cy="353.02" r="1.95" fill="#000"/>
<circle cx="130.14" cy="385.4" r="1.95" fill="#000"/>
<circle cx="160.82" cy="391.75" r="1.95" fill="#000"/>
<circle cx="191.5" cy="392.39" r="1.95" fill="#000"/>
<g font-family="'Liberation Sans', sans-serif" font-size="6" fill="#000" stroke="#000" stroke-width="0.18">
<line x1="124.8" y1="276.9" x2="132" y2="276.9" stroke="#222" stroke-width="0.8"/>
<circle cx="128.3" cy="276.9" r="1.8" fill="#000"/>
<text x="132.6" y="279">Primary emulsion</text>
<line x1="124.8" y1="288.3" x2="132" y2="288.3" stroke="#222" stroke-width="0.8"/>
<rect x="126.5" y="286.5" width="3.6" height="3.6" fill="#000"/>
<text x="132.6" y="290.4">with FUC</text>
<line x1="124.8" y1="300.2" x2="132" y2="300.2" stroke="#222" stroke-width="0.8"/>
<circle cx="128.3" cy="300.2" r="1.8" fill="#fff" stroke="#333" stroke-width="0.7"/>
<text x="132.6" y="302.3">with ICA</text>
<line x1="124.8" y1="311.7" x2="132" y2="311.7" stroke="#222" stroke-width="0.8"/>
<path d="M126.8 311.7 L128.3 310.2 L129.8 311.7 L128.3 313.2 Z" fill="#000"/>
<text x="132.6" y="313.8">with KCA</text>
<line x1="124.8" y1="323.0" x2="132" y2="323.0" stroke="#222" stroke-width="0.8"/>
<text x="132.6" y="325.1">with ALG</text>
</g>
<rect x="230.6" y="269.2" width="149" height="129.7" fill="#fff" stroke="#8c8c8c" stroke-width="1.2"/>
<line x1="228.6" y1="398.9" x2="230.6" y2="398.9" stroke="#8c8c8c" stroke-width="0.8"/>
<line x1="228.6" y1="382.69" x2="230.6" y2="382.69" stroke="#8c8c8c" stroke-width="0.8"/>
<line x1="228.6" y1="366.47" x2="230.6" y2="366.47" stroke="#8c8c8c" stroke-width="0.8"/>
<line x1="228.6" y1="350.26" x2="230.6" y2="350.26" stroke="#8c8c8c" stroke-width="0.8"/>
<line x1="228.6" y1="334.05" x2="230.6" y2="334.05" stroke="#8c8c8c" stroke-width="0.8"/>
<line x1="228.6" y1="317.84" x2="230.6" y2="317.84" stroke="#8c8c8c" stroke-width="0.8"/>
<line x1="228.6" y1="301.62" x2="230.6" y2="301.62" stroke="#8c8c8c" stroke-width="0.8"/>
<line x1="228.6" y1="285.41" x2="230.6" y2="285.41" stroke="#8c8c8c" stroke-width="0.8"/>
<line x1="228.6" y1="269.2" x2="230.6" y2="269.2" stroke="#8c8c8c" stroke-width="0.8"/>
<line x1="230.6" y1="398.9" x2="230.6" y2="400.9" stroke="#8c8c8c" stroke-width="0.8"/>
<line x1="267.85" y1="398.9" x2="267.85" y2="400.9" stroke="#8c8c8c" stroke-width="0.8"/>
<line x1="305.1" y1="398.9" x2="305.1" y2="400.9" stroke="#8c8c8c" stroke-width="0.8"/>
<line x1="342.35" y1="398.9" x2="342.35" y2="400.9" stroke="#8c8c8c" stroke-width="0.8"/>
<line x1="379.6" y1="398.9" x2="379.6" y2="400.9" stroke="#8c8c8c" stroke-width="0.8"/>
<g font-family="'Liberation Serif', serif" font-weight="bold" font-size="7.8" fill="#000" stroke="#000" stroke-width="0.08">
<text x="223.9" y="401.6" text-anchor="end">0</text>
<text x="223.9" y="385.39" text-anchor="end">10</text>
<text x="223.9" y="369.17" text-anchor="end">20</text>
<text x="223.9" y="352.96" text-anchor="end">30</text>
<text x="223.9" y="336.75" text-anchor="end">40</text>
<text x="223.9" y="320.54" text-anchor="end">50</text>
<text x="223.9" y="304.32" text-anchor="end">60</text>
<text x="223.9" y="288.11" text-anchor="end">70</text>
<text x="223.9" y="271.9" text-anchor="end">80</text>
<text x="230.6" y="410.2" text-anchor="middle">0</text>
<text x="267.85" y="410.2" text-anchor="middle">100</text>
<text x="305.1" y="410.2" text-anchor="middle">200</text>
<text x="342.35" y="410.2" text-anchor="middle">300</text>
<text x="379.6" y="410.2" text-anchor="middle">400</text>
</g>
<text x="308.8" y="420.2" font-family="'Liberation Serif', serif" font-weight="bold" font-size="9.2" fill="#C00000" stroke="#C00000" stroke-width="0.12" text-anchor="middle">NaCl Concentration (mM)</text>
<text transform="translate(209.8 337.6) rotate(-90)" font-family="'Liberation Serif', serif" font-weight="bold" font-size="9.2" fill="#C00000" stroke="#C00000" stroke-width="0.12" text-anchor="middle">Creaming Index (%)</text>
<path d="M267.85 368.39 V382.39 M266.85 368.39 h2 M266.85 382.39 h2" stroke="#b0b0b0" stroke-width="0.6" fill="none"/>
<path d="M305.1 360.66 V370.66 M304.1 360.66 h2 M304.1 370.66 h2" stroke="#b0b0b0" stroke-width="0.6" fill="none"/>
<path d="M305.1 294.06 V314.06 M304.1 294.06 h2 M304.1 314.06 h2" stroke="#808080" stroke-width="0.6" fill="none"/>
<path d="M379.6 278.66 V286.66 M378.6 278.66 h2 M378.6 286.66 h2" stroke="#b0b0b0" stroke-width="0.6" fill="none"/>
<polyline points="230.6,398.9 249.22,398.9 267.85,398.9 305.1,398.9 379.6,398.9" fill="none" stroke="#999" stroke-width="0.8" stroke-linejoin="round"/>
<polyline points="249.22,398.9 267.85,375.39 305.1,365.66 379.6,282.66" fill="none" stroke="#1c1c1c" stroke-width="1.0" stroke-linejoin="round"/>
<polyline points="230.6,398.9 249.22,386.74 267.85,387.88 305.1,372.15 379.6,292.71" fill="none" stroke="#1c1c1c" stroke-width="1.0" stroke-linejoin="round"/>
<polyline points="230.6,398.9 249.22,398.9 267.85,388.36 305.1,304.06 379.6,366.47" fill="none" stroke="#1c1c1c" stroke-width="1.0" stroke-linejoin="round"/>
<line x1="230.6" y1="398.9" x2="379.6" y2="398.9" stroke="#8c8c8c" stroke-width="1.2"/>
<rect x="228.9" y="397.2" width="3.4" height="3.4" fill="#fff" stroke="#888" stroke-width="0.6"/>
<rect x="247.53" y="397.2" width="3.4" height="3.4" fill="#fff" stroke="#888" stroke-width="0.6"/>
<rect x="266.15" y="397.2" width="3.4" height="3.4" fill="#fff" stroke="#888" stroke-width="0.6"/>
<rect x="303.4" y="397.2" width="3.4" height="3.4" fill="#fff" stroke="#888" stroke-width="0.6"/>
<rect x="377.9" y="397.2" width="3.4" height="3.4" fill="#fff" stroke="#888" stroke-width="0.6"/>
<path d="M228.3 398.9 L230.6 396.6 L232.9 398.9 L230.6 401.2 Z" fill="#000"/>
<path d="M246.92 386.74 L249.22 384.44 L251.53 386.74 L249.22 389.04 Z" fill="#000"/>
<path d="M265.55 387.88 L267.85 385.58 L270.15 387.88 L267.85 390.18 Z" fill="#000"/>
<path d="M302.8 372.15 L305.1 369.85 L307.4 372.15 L305.1 374.45 Z" fill="#000"/>
<path d="M377.3 292.71 L379.6 290.41 L381.9 292.71 L379.6 295.01 Z" fill="#000"/>
<rect x="228.6" y="396.9" width="4" height="4" fill="#000"/>
<rect x="247.22" y="396.9" width="4" height="4" fill="#000"/>
<rect x="265.85" y="386.36" width="4" height="4" fill="#000"/>
<rect x="303.1" y="302.06" width="4" height="4" fill="#000"/>
<rect x="377.6" y="364.47" width="4" height="4" fill="#000"/>
<g font-family="'Liberation Sans', sans-serif" font-size="6" fill="#000" stroke="#000" stroke-width="0.18">
<line x1="259.4" y1="277" x2="266.6" y2="277" stroke="#222" stroke-width="0.8"/>
<rect x="261.2" y="275.2" width="3.6" height="3.6" fill="#000"/>
<text x="268.2" y="279.1">with FUC</text>
<line x1="312.2" y1="277" x2="319.40000000000003" y2="277" stroke="#222" stroke-width="0.8"/>
<rect x="314.1" y="275.3" width="3.4" height="3.4" fill="#fff" stroke="#888" stroke-width="0.6"/>
<text x="322" y="279.1">with ICA</text>
<line x1="259.4" y1="293.8" x2="266.6" y2="293.8" stroke="#222" stroke-width="0.8"/>
<path d="M261.4 293.8 L263 292.2 L264.6 293.8 L263 295.4 Z" fill="#000"/>
<text x="268.2" y="295.9">with KCA</text>
<line x1="312.2" y1="293.8" x2="319.40000000000003" y2="293.8" stroke="#222" stroke-width="0.8"/>
<text x="320.6" y="295.9">with ALG</text>
</g>
<rect x="418.2" y="273.3" width="207.4" height="141.4" fill="#efefef"/>
<defs><filter id="soft" x="-5%" y="-5%" width="110%" height="110%"><feGaussianBlur stdDeviation="0.35"/></filter></defs>
<rect x="418.9" y="274.1" width="40.8" height="26.9" fill="#0b0000"/>
<g filter="url(#soft)"><circle cx="432.39" cy="278.72" r="0.26" fill="#4d0202"/><circle cx="440.71" cy="284.15" r="0.4" fill="#3c0101"/><circle cx="421.17" cy="285.87" r="0.27" fill="#3c0101"/><circle cx="436.34" cy="295.82" r="0.31" fill="#3c0101"/><circle cx="444.3" cy="298.88" r="0.37" fill="#4b0102"/><circle cx="457.97" cy="276.08" r="0.33" fill="#540202"/><circle cx="425.35" cy="277.88" r="0.5" fill="#420101"/><circle cx="426.78" cy="289.61" r="0.36" fill="#4d0202"/><circle cx="441.17" cy="276.49" r="0.31" fill="#3c0101"/><circle cx="446.37" cy="285.72" r="0.43" fill="#420101"/><circle cx="437.46" cy="282.48" r="0.46" fill="#520202"/><circle cx="429.27" cy="289.43" r="0.52" fill="#490102"/><circle cx="448.29" cy="282.18" r="0.28" fill="#580203"/><circle cx="436.09" cy="294.06" r="0.4" fill="#3d0101"/><circle cx="421.24" cy="291.81" r="0.42" fill="#510202"/><circle cx="454.02" cy="282.84" r="0.43" fill="#4f0202"/><circle cx="442.43" cy="286.44" r="0.54" fill="#540202"/><circle cx="438.28" cy="291.7" r="0.46" fill="#3c0101"/><circle cx="445.07" cy="300.03" r="0.33" fill="#530202"/><circle cx="434.82" cy="291.82" r="0.39" fill="#3c0101"/><circle cx="426.29" cy="277.86" r="0.49" fill="#3c0101"/><circle cx="424.77" cy="281.16" r="0.52" fill="#450101"/><circle cx="422.86" cy="286.26" r="0.52" fill="#4a0102"/><circle cx="451.82" cy="296.76" r="0.37" fill="#410101"/><circle cx="433.76" cy="297.27" r="0.29" fill="#570203"/><circle cx="426.61" cy="280.77" r="0.4" fill="#400101"/><circle cx="442.79" cy="281.55" r="0.37" fill="#3c0101"/><circle cx="434.17" cy="289.23" r="0.46" fill="#570203"/><circle cx="439.91" cy="290.53" r="0.26" fill="#4e0202"/><circle cx="454.96" cy="294.63" r="0.5" fill="#550202"/><circle cx="435.08" cy="284.99" r="0.44" fill="#3c0101"/><circle cx="422.14" cy="276.6" r="0.29" fill="#3f0101"/><circle cx="433.03" cy="276.23" r="0.29" fill="#3c0101"/><circle cx="423.68" cy="284.1" r="0.52" fill="#3c0101"/><circle cx="443.77" cy="278.66" r="0.35" fill="#400101"/><circle cx="433.98" cy="278.01" r="0.56" fill="#540202"/><circle cx="437.97" cy="287.14" r="0.27" fill="#3c0101"/><circle cx="433.13" cy="281.6" r="0.29" fill="#530202"/><circle cx="420.61" cy="298.96" r="0.29" fill="#490102"/><circle cx="440.99" cy="275.58" r="0.55" fill="#490102"/><circle cx="453.54" cy="292.51" r="0.36" fill="#410101"/><circle cx="426.25" cy="294.43" r="0.49" fill="#490102"/><circle cx="432.62" cy="280.54" r="0.56" fill="#530202"/><circle cx="453.12" cy="295.29" r="0.48" fill="#530202"/><circle cx="428.59" cy="288" r="0.25" fill="#440101"/><circle cx="420.36" cy="292.91" r="0.52" fill="#5e0203"/><circle cx="442.2" cy="294.61" r="0.63" fill="#8a0405"/><circle cx="442.16" cy="293.77" r="0.35" fill="#5b0203"/><circle cx="424.33" cy="292.15" r="0.59" fill="#750304"/><circle cx="439.47" cy="294.93" r="0.56" fill="#770404"/><circle cx="421.69" cy="296.77" r="0.55" fill="#880405"/><circle cx="437.34" cy="294.92" r="0.55" fill="#580203"/><circle cx="427.52" cy="298.18" r="0.41" fill="#8c0506"/><circle cx="429.14" cy="299.66" r="0.33" fill="#7c0405"/><circle cx="422.69" cy="291.61" r="0.56" fill="#880405"/><circle cx="423.14" cy="298.44" r="0.51" fill="#8d0506"/><circle cx="427.94" cy="295.63" r="0.28" fill="#550202"/></g>
<rect x="455.5" y="299.5" width="1.9" height="0.5" fill="#777"/>
<rect x="460.7" y="274.1" width="40.7" height="26.9" fill="#0d0000"/>
<g filter="url(#soft)"><circle cx="499.46" cy="291.34" r="0.61" fill="#5c0203"/><circle cx="478.46" cy="296.96" r="0.35" fill="#6b0304"/><circle cx="471.35" cy="282.31" r="0.48" fill="#4e0202"/><circle cx="471.64" cy="285.5" r="0.6" fill="#490102"/><circle cx="475.33" cy="286.49" r="0.6" fill="#5f0203"/><circle cx="477.95" cy="298.12" r="0.46" fill="#5b0203"/><circle cx="481.97" cy="275.37" r="0.34" fill="#580203"/><circle cx="461.65" cy="295.12" r="0.44" fill="#4b0102"/><circle cx="489.86" cy="288.98" r="0.46" fill="#520202"/><circle cx="483.22" cy="294.74" r="0.47" fill="#470102"/><circle cx="471.22" cy="281.91" r="0.45" fill="#680304"/><circle cx="483.46" cy="294.13" r="0.43" fill="#6f0304"/><circle cx="485.45" cy="287.69" r="0.52" fill="#5b0203"/><circle cx="479.19" cy="288.39" r="0.61" fill="#5a0203"/><circle cx="488.84" cy="297.08" r="0.36" fill="#710304"/><circle cx="483.38" cy="298.76" r="0.32" fill="#6c0304"/><circle cx="466.26" cy="286.09" r="0.36" fill="#460102"/><circle cx="464.36" cy="291.84" r="0.59" fill="#690304"/><circle cx="467.54" cy="293.02" r="0.32" fill="#630303"/><circle cx="496.02" cy="299.38" r="0.61" fill="#4d0202"/><circle cx="477.07" cy="287.23" r="0.57" fill="#730304"/><circle cx="467.81" cy="285.82" r="0.39" fill="#5c0203"/><circle cx="469.15" cy="282.96" r="0.28" fill="#660303"/><circle cx="483.16" cy="286.04" r="0.39" fill="#430101"/><circle cx="485.9" cy="287.86" r="0.62" fill="#450101"/><circle cx="492.32" cy="299.48" r="0.37" fill="#470102"/><circle cx="463.05" cy="294.61" r="0.32" fill="#500202"/><circle cx="478.01" cy="297.96" r="0.36" fill="#6b0304"/><circle cx="467.34" cy="298.16" r="0.52" fill="#5e0203"/><circle cx="465" cy="276.36" r="0.42" fill="#640303"/><circle cx="464.33" cy="298.64" r="0.56" fill="#610303"/><circle cx="464.77" cy="296.56" r="0.58" fill="#460101"/><circle cx="479.24" cy="283.48" r="0.6" fill="#5d0203"/><circle cx="471.97" cy="278.17" r="0.36" fill="#5c0203"/><circle cx="465.78" cy="278.98" r="0.34" fill="#450101"/><circle cx="473.7" cy="282.62" r="0.37" fill="#680303"/><circle cx="481.05" cy="279.4" r="0.28" fill="#530202"/><circle cx="471.29" cy="275.29" r="0.47" fill="#660303"/><circle cx="468.91" cy="286.91" r="0.31" fill="#700304"/><circle cx="493.52" cy="285.83" r="0.57" fill="#5b0203"/><circle cx="476.87" cy="287.72" r="0.62" fill="#640303"/><circle cx="474.9" cy="295.96" r="0.5" fill="#650303"/><circle cx="477.32" cy="283.69" r="0.32" fill="#450101"/><circle cx="464.27" cy="293.64" r="0.33" fill="#4f0202"/><circle cx="464.8" cy="296.18" r="0.51" fill="#6d0304"/><circle cx="472.52" cy="281.03" r="0.44" fill="#510202"/><circle cx="467.66" cy="286.18" r="0.62" fill="#4f0202"/><circle cx="499.53" cy="288.74" r="0.62" fill="#4e0202"/><circle cx="473.6" cy="283.92" r="0.41" fill="#420101"/><circle cx="480.06" cy="287.62" r="0.45" fill="#4c0102"/><circle cx="461.69" cy="281.58" r="0.41" fill="#470102"/><circle cx="463.13" cy="275.47" r="0.35" fill="#510202"/><circle cx="484.4" cy="288.29" r="0.51" fill="#670303"/><circle cx="489.5" cy="297.14" r="0.39" fill="#550202"/><circle cx="500" cy="278.68" r="0.5" fill="#660303"/><circle cx="463.21" cy="296.03" r="0.5" fill="#6e0304"/><circle cx="490.19" cy="295.45" r="0.46" fill="#490102"/><circle cx="481.22" cy="296.02" r="0.57" fill="#6a0304"/><circle cx="484.34" cy="297.49" r="0.52" fill="#640303"/><circle cx="470.49" cy="275.69" r="0.4" fill="#490102"/><circle cx="465.6" cy="296.05" r="0.5" fill="#5e0203"/><circle cx="485.99" cy="292.12" r="0.27" fill="#5a0203"/><circle cx="492.69" cy="293.83" r="0.46" fill="#5b0203"/><circle cx="487.28" cy="276.57" r="0.36" fill="#660303"/><circle cx="464.41" cy="281.62" r="0.34" fill="#660303"/><circle cx="490.43" cy="299.59" r="0.41" fill="#5b0203"/><circle cx="480.23" cy="292.2" r="0.49" fill="#680304"/><circle cx="486.63" cy="276.86" r="0.36" fill="#4a0102"/><circle cx="490.56" cy="282.6" r="0.27" fill="#5e0203"/><circle cx="463.87" cy="281.7" r="0.52" fill="#630303"/><circle cx="487.92" cy="282.26" r="0.44" fill="#5c0203"/><circle cx="479.73" cy="277.9" r="0.34" fill="#6e0304"/><circle cx="499.74" cy="298.59" r="0.44" fill="#430101"/><circle cx="493.56" cy="299.39" r="0.37" fill="#580203"/><circle cx="469.7" cy="298.82" r="0.48" fill="#4d0202"/></g>
<rect x="497.2" y="299.5" width="1.9" height="0.5" fill="#777"/>
<rect x="502.2" y="274.1" width="40.5" height="26.9" fill="#070000"/>
<g filter="url(#soft)"><circle cx="506.86" cy="288.16" r="0.42" fill="#e6090b"/><circle cx="525.33" cy="287.77" r="0.7" fill="#dd090a"/><circle cx="509.3" cy="297.61" r="0.37" fill="#ac0608"/><circle cx="503.1" cy="287.34" r="0.5" fill="#a80607"/><circle cx="506.83" cy="283.6" r="0.76" fill="#970506"/><circle cx="503.05" cy="293.89" r="0.42" fill="#d8080a"/><circle cx="528.23" cy="292.94" r="0.5" fill="#df090a"/><circle cx="513.14" cy="284.84" r="0.64" fill="#eb090b"/><circle cx="512.82" cy="285.73" r="0.38" fill="#920506"/><circle cx="505.77" cy="296.02" r="0.81" fill="#940506"/><circle cx="509.79" cy="281.62" r="0.45" fill="#af0608"/><circle cx="513.17" cy="299.09" r="0.75" fill="#dd090a"/><circle cx="527.54" cy="298.01" r="0.42" fill="#5c0203"/><circle cx="530.99" cy="276.15" r="0.38" fill="#540202"/><circle cx="532.28" cy="291.21" r="0.26" fill="#440101"/><circle cx="539.05" cy="278.12" r="0.35" fill="#4b0102"/><circle cx="514.58" cy="293.6" r="0.32" fill="#5d0203"/><circle cx="528.52" cy="282.51" r="0.37" fill="#4e0202"/><circle cx="509.51" cy="278.99" r="0.53" fill="#420101"/><circle cx="522.34" cy="280.47" r="0.56" fill="#5b0203"/><circle cx="520.5" cy="278.43" r="0.27" fill="#410101"/><circle cx="516.3" cy="277.2" r="0.32" fill="#430101"/><circle cx="525.16" cy="297.35" r="0.37" fill="#550202"/><circle cx="519.1" cy="288.16" r="0.35" fill="#480102"/><circle cx="505.41" cy="281.92" r="0.28" fill="#5d0203"/><circle cx="522.58" cy="290.83" r="0.31" fill="#590203"/><circle cx="513.54" cy="281.19" r="0.38" fill="#480102"/><circle cx="540.11" cy="296.37" r="0.25" fill="#5a0203"/><circle cx="504.25" cy="292.85" r="0.39" fill="#5a0203"/><circle cx="525.84" cy="274.9" r="0.54" fill="#480102"/><circle cx="535.12" cy="296.54" r="0.32" fill="#5d0203"/><circle cx="507.24" cy="278.81" r="0.46" fill="#4d0202"/><circle cx="539.62" cy="293.16" r="0.48" fill="#510202"/><circle cx="520.79" cy="288.85" r="0.49" fill="#3c0101"/><circle cx="512.05" cy="298.17" r="0.34" fill="#510202"/><circle cx="507.98" cy="281.27" r="0.46" fill="#510202"/><circle cx="507.36" cy="276.68" r="0.43" fill="#4d0202"/></g>
<rect x="538.5" y="299.5" width="1.9" height="0.5" fill="#777"/>
<rect x="543.9" y="274.1" width="40.3" height="26.9" fill="#2a0000"/>
<g filter="url(#soft)"><circle cx="559.72" cy="280.56" r="0.33" fill="#b40708"/><circle cx="556.37" cy="286.56" r="0.61" fill="#df090a"/><circle cx="578.9" cy="286.93" r="0.44" fill="#890405"/><circle cx="581.88" cy="292.73" r="0.34" fill="#920506"/><circle cx="563.98" cy="291.96" r="0.44" fill="#9f0607"/><circle cx="570.53" cy="298.31" r="0.35" fill="#880405"/><circle cx="557.78" cy="285.54" r="0.42" fill="#be0709"/><circle cx="575.55" cy="293.6" r="0.42" fill="#a90607"/><circle cx="582.23" cy="282.79" r="0.43" fill="#ce0809"/><circle cx="553.27" cy="294.14" r="0.75" fill="#900506"/><circle cx="563.89" cy="279.64" r="0.51" fill="#880405"/><circle cx="570.45" cy="298.9" r="0.5" fill="#7f0405"/><circle cx="552.94" cy="299.55" r="0.35" fill="#7e0405"/><circle cx="547.03" cy="284.85" r="0.72" fill="#d7080a"/><circle cx="573.06" cy="300.14" r="0.47" fill="#db080a"/><circle cx="551.88" cy="298.58" r="0.34" fill="#c50709"/><circle cx="570.41" cy="284.48" r="0.48" fill="#990506"/><circle cx="551.25" cy="274.97" r="0.48" fill="#8e0506"/><circle cx="581.68" cy="278.03" r="0.42" fill="#df090a"/><circle cx="558.5" cy="295.69" r="0.52" fill="#ce080a"/><circle cx="546.61" cy="286.88" r="0.73" fill="#990506"/><circle cx="552.17" cy="284.12" r="0.34" fill="#d7080a"/><circle cx="560.6" cy="295.44" r="0.35" fill="#c80809"/><circle cx="546.05" cy="276.48" r="0.44" fill="#da080a"/><circle cx="573.62" cy="297.63" r="0.45" fill="#950506"/><circle cx="581.76" cy="290.51" r="0.65" fill="#8c0506"/><circle cx="556.95" cy="281.87" r="0.66" fill="#6e0304"/><circle cx="580.17" cy="290.94" r="0.34" fill="#dd090a"/><circle cx="553.75" cy="286.92" r="0.75" fill="#de090a"/><circle cx="559.66" cy="281.25" r="0.55" fill="#a00607"/><circle cx="580.62" cy="279.53" r="0.65" fill="#cc0809"/><circle cx="576.54" cy="294.45" r="0.47" fill="#b50708"/><circle cx="557.07" cy="284.06" r="0.36" fill="#ca0809"/><circle cx="552.34" cy="293.95" r="0.36" fill="#8b0506"/><circle cx="546.01" cy="288.88" r="0.76" fill="#940506"/><circle cx="578.89" cy="299.89" r="0.37" fill="#8d0506"/><circle cx="548.43" cy="287.51" r="0.53" fill="#c10709"/><circle cx="553.76" cy="285.45" r="0.63" fill="#b70708"/><circle cx="573.65" cy="296.33" r="0.38" fill="#bc0708"/><circle cx="577.24" cy="282.33" r="0.49" fill="#b00608"/><circle cx="573.26" cy="279.94" r="0.44" fill="#8b0506"/><circle cx="550.63" cy="297.27" r="0.47" fill="#b20608"/><circle cx="560.03" cy="300.01" r="0.43" fill="#a90607"/><circle cx="575.99" cy="291.43" r="0.38" fill="#e2090b"/><circle cx="563.07" cy="295.62" r="0.73" fill="#d1080a"/><circle cx="546.26" cy="282.33" r="0.41" fill="#7b0405"/><circle cx="582.35" cy="289.65" r="0.49" fill="#db080a"/><circle cx="578.22" cy="286.26" r="0.67" fill="#8c0506"/><circle cx="581.3" cy="277.58" r="0.6" fill="#b40708"/><circle cx="553.12" cy="284.23" r="0.42" fill="#7e0405"/><circle cx="554.57" cy="290.07" r="0.42" fill="#ba0708"/><circle cx="545.14" cy="283.18" r="0.41" fill="#bd0709"/><circle cx="556.78" cy="280.05" r="0.57" fill="#cb0809"/><circle cx="547.15" cy="277.47" r="0.57" fill="#9c0507"/><circle cx="569.44" cy="277.21" r="0.64" fill="#810405"/><circle cx="560.56" cy="282.07" r="0.75" fill="#920506"/><circle cx="556.79" cy="289.23" r="0.51" fill="#970506"/><circle cx="578.15" cy="300.11" r="0.42" fill="#980506"/><circle cx="572.87" cy="280.05" r="0.73" fill="#6e0304"/><circle cx="561.1" cy="295.66" r="0.72" fill="#9d0507"/><circle cx="562.54" cy="279.01" r="0.57" fill="#6f0304"/><circle cx="569.49" cy="297.92" r="0.6" fill="#780404"/><circle cx="559.05" cy="287.66" r="0.45" fill="#7f0405"/><circle cx="564.87" cy="298.32" r="0.55" fill="#7a0405"/><circle cx="575.85" cy="299.36" r="0.39" fill="#850405"/><circle cx="581.2" cy="299.58" r="0.35" fill="#a60607"/><circle cx="580.54" cy="284.71" r="0.6" fill="#d8080a"/><circle cx="576.61" cy="278.95" r="0.43" fill="#ca0809"/><circle cx="560.35" cy="296.31" r="0.41" fill="#cf080a"/><circle cx="553.14" cy="285.01" r="0.5" fill="#aa0607"/><circle cx="549.46" cy="281.15" r="0.72" fill="#c30709"/><circle cx="546.29" cy="289.13" r="0.35" fill="#c70709"/><circle cx="577.14" cy="277.88" r="0.57" fill="#b40708"/><circle cx="568.97" cy="282.65" r="0.59" fill="#9f0607"/><circle cx="561.18" cy="291.57" r="0.52" fill="#a20607"/><circle cx="545.6" cy="290.56" r="0.43" fill="#a70607"/><circle cx="574.25" cy="294.63" r="0.41" fill="#a30607"/><circle cx="563.01" cy="277.61" r="0.52" fill="#7c0405"/><circle cx="548.25" cy="286.08" r="0.35" fill="#aa0607"/><circle cx="569.33" cy="276.98" r="0.67" fill="#c40709"/><circle cx="564.49" cy="276.27" r="0.5" fill="#a90607"/><circle cx="581.5" cy="278.35" r="0.77" fill="#d3080a"/><circle cx="573.03" cy="295.52" r="0.76" fill="#840405"/><circle cx="563.74" cy="299.1" r="0.4" fill="#d9080a"/><circle cx="575.21" cy="298.44" r="0.48" fill="#750304"/><circle cx="573.96" cy="278.92" r="0.45" fill="#d7080a"/><circle cx="576.26" cy="278.53" r="0.73" fill="#a90607"/><circle cx="552.76" cy="281.55" r="0.47" fill="#a90607"/><circle cx="546.13" cy="279.51" r="0.74" fill="#800405"/><circle cx="571" cy="297.55" r="0.68" fill="#810405"/><circle cx="549.15" cy="288.33" r="0.49" fill="#b80708"/><circle cx="578.48" cy="288.95" r="0.72" fill="#b20608"/><circle cx="548.75" cy="300.02" r="0.5" fill="#b80708"/><circle cx="575.57" cy="281.6" r="0.58" fill="#e2090b"/><circle cx="558.64" cy="294.25" r="0.41" fill="#a20607"/><circle cx="573.48" cy="276.12" r="0.44" fill="#ce0809"/><circle cx="569.44" cy="299.8" r="0.62" fill="#b20608"/><circle cx="556.8" cy="274.95" r="0.4" fill="#710304"/><circle cx="568.54" cy="285.84" r="0.72" fill="#aa0607"/><circle cx="549.81" cy="280.65" r="0.34" fill="#ba0708"/><circle cx="544.8" cy="283.88" r="0.49" fill="#7a0405"/><circle cx="553.38" cy="289.66" r="0.42" fill="#b30608"/><circle cx="568.85" cy="286.92" r="0.74" fill="#7d0405"/><circle cx="554.13" cy="278.68" r="0.61" fill="#790404"/><circle cx="578.42" cy="294.69" r="0.45" fill="#9d0507"/><circle cx="545.14" cy="291.22" r="0.48" fill="#b00608"/><circle cx="569.68" cy="286.13" r="0.65" fill="#dc080a"/><circle cx="554.32" cy="297.76" r="0.56" fill="#720304"/><circle cx="560.41" cy="280.91" r="0.67" fill="#740304"/><circle cx="545.18" cy="288.84" r="0.39" fill="#dc090a"/><circle cx="552.42" cy="290.28" r="0.61" fill="#a90607"/><circle cx="576.18" cy="279.32" r="0.46" fill="#920506"/><circle cx="546.58" cy="297.4" r="0.64" fill="#ca0809"/><circle cx="544.95" cy="296.26" r="0.53" fill="#c50709"/><circle cx="573.41" cy="286.35" r="0.38" fill="#880405"/><circle cx="553.69" cy="275.88" r="0.66" fill="#950506"/><circle cx="571.6" cy="296.29" r="0.45" fill="#c10709"/><circle cx="566.13" cy="285.93" r="0.56" fill="#ca0809"/><circle cx="554.97" cy="291.14" r="0.43" fill="#df090a"/><circle cx="578.76" cy="275.29" r="0.43" fill="#8c0506"/><circle cx="573.49" cy="298.8" r="0.47" fill="#c50709"/><circle cx="578.76" cy="283.21" r="0.73" fill="#8a0405"/><circle cx="569.11" cy="292.43" r="0.76" fill="#bc0708"/><circle cx="562.87" cy="296.14" r="0.71" fill="#c00709"/><circle cx="561.62" cy="293.23" r="0.47" fill="#b10608"/><circle cx="552.9" cy="290.65" r="0.73" fill="#760404"/><circle cx="550.3" cy="275.58" r="0.74" fill="#7a0405"/><circle cx="558.05" cy="278.49" r="0.35" fill="#710304"/><circle cx="571.5" cy="290.94" r="0.65" fill="#c00709"/><circle cx="547.25" cy="289.84" r="0.69" fill="#980506"/></g>
<rect x="580" y="299.5" width="1.9" height="0.5" fill="#777"/>
<rect x="585.1" y="274.1" width="39.9" height="26.9" fill="#0d0000"/>
<g filter="url(#soft)"><circle cx="617.29" cy="297.45" r="0.52" fill="#3c0101"/><circle cx="620.92" cy="298.79" r="0.31" fill="#3c0101"/><circle cx="590.19" cy="275.77" r="0.5" fill="#4f0202"/><circle cx="610.19" cy="295.77" r="0.33" fill="#490102"/><circle cx="589.73" cy="277.38" r="0.31" fill="#4c0102"/><circle cx="598.12" cy="285.62" r="0.32" fill="#3c0101"/><circle cx="596.72" cy="293.01" r="0.34" fill="#410101"/><circle cx="622.82" cy="287.64" r="0.44" fill="#4f0202"/><circle cx="587.09" cy="285.35" r="0.49" fill="#430101"/><circle cx="599.18" cy="292.73" r="0.31" fill="#460102"/><circle cx="618.92" cy="277.2" r="0.29" fill="#4e0202"/><circle cx="585.95" cy="280.01" r="0.55" fill="#4c0102"/><circle cx="586.07" cy="287.32" r="0.49" fill="#440101"/><circle cx="592.97" cy="287.41" r="0.51" fill="#400101"/><circle cx="595.88" cy="298.78" r="0.31" fill="#3e0101"/><circle cx="612.69" cy="287.51" r="0.44" fill="#3c0101"/><circle cx="589" cy="294.83" r="0.49" fill="#4b0102"/><circle cx="609.95" cy="283.9" r="0.37" fill="#420101"/><circle cx="620" cy="277.08" r="0.25" fill="#500202"/><circle cx="593.79" cy="281.56" r="0.4" fill="#510202"/><circle cx="600.43" cy="297.26" r="0.39" fill="#3d0101"/><circle cx="606.26" cy="293.99" r="0.45" fill="#4c0102"/><circle cx="599.25" cy="283.16" r="0.51" fill="#3c0101"/><circle cx="611.26" cy="293.67" r="0.38" fill="#3c0101"/><circle cx="615.52" cy="289.55" r="0.39" fill="#3c0101"/><circle cx="619.8" cy="280.92" r="0.34" fill="#3c0101"/><circle cx="612.83" cy="296.24" r="0.29" fill="#3c0101"/><circle cx="595.38" cy="283.16" r="0.29" fill="#450101"/><circle cx="598.47" cy="279.69" r="0.47" fill="#530202"/><circle cx="589.8" cy="299.25" r="0.36" fill="#3c0101"/><circle cx="623.58" cy="295.01" r="0.38" fill="#4c0102"/><circle cx="593.41" cy="291.04" r="0.31" fill="#3c0101"/><circle cx="600.77" cy="275.76" r="0.49" fill="#420101"/><circle cx="612.46" cy="287.56" r="0.39" fill="#490102"/><circle cx="591.33" cy="290.17" r="0.48" fill="#420101"/><circle cx="620.68" cy="285.78" r="0.48" fill="#470102"/><circle cx="602.03" cy="280.68" r="0.52" fill="#4b0102"/><circle cx="615.55" cy="292.61" r="0.46" fill="#4f0202"/><circle cx="610.47" cy="286.38" r="0.44" fill="#3f0101"/><circle cx="589.65" cy="285.52" r="0.47" fill="#4d0202"/><circle cx="610.01" cy="281.23" r="0.39" fill="#420101"/><circle cx="609.71" cy="285.26" r="0.54" fill="#4a0102"/><circle cx="592.91" cy="291.46" r="0.36" fill="#4d0202"/><circle cx="604.66" cy="299.56" r="0.41" fill="#3c0101"/><circle cx="592.06" cy="294.68" r="0.41" fill="#520202"/><circle cx="589.77" cy="289.44" r="0.47" fill="#460102"/><circle cx="605.52" cy="291.07" r="0.41" fill="#4e0202"/><circle cx="601.62" cy="298.88" r="0.46" fill="#3c0101"/><circle cx="600.93" cy="294.2" r="0.56" fill="#3c0101"/><circle cx="599.51" cy="276.33" r="0.37" fill="#3e0101"/><circle cx="586.41" cy="285.49" r="0.46" fill="#420101"/><circle cx="599.39" cy="281.61" r="0.48" fill="#3d0101"/><circle cx="621.9" cy="288.24" r="0.5" fill="#3c0101"/><circle cx="600.91" cy="280.26" r="0.49" fill="#3c0101"/><circle cx="616.91" cy="290.95" r="0.42" fill="#440101"/><circle cx="594.56" cy="299.29" r="0.44" fill="#400101"/><circle cx="617.26" cy="295.55" r="0.33" fill="#440101"/><circle cx="606.9" cy="278.07" r="0.35" fill="#4f0202"/><circle cx="618.48" cy="281.67" r="0.32" fill="#410101"/><circle cx="602.22" cy="279.6" r="0.47" fill="#3c0101"/><circle cx="596.67" cy="281.1" r="0.39" fill="#3f0101"/><circle cx="602.31" cy="291.02" r="0.36" fill="#490102"/><circle cx="621.47" cy="296.52" r="0.5" fill="#3c0101"/><circle cx="620.59" cy="294.74" r="0.51" fill="#3c0101"/><circle cx="610.15" cy="275.28" r="0.54" fill="#3c0101"/><circle cx="611.02" cy="281.23" r="0.29" fill="#3c0101"/><circle cx="594.85" cy="294.54" r="0.29" fill="#400101"/><circle cx="620.53" cy="294.93" r="0.53" fill="#3c0101"/><circle cx="609.2" cy="294.67" r="0.53" fill="#4a0102"/><circle cx="616.08" cy="296.12" r="0.46" fill="#3c0101"/><circle cx="606.23" cy="293.67" r="0.52" fill="#430101"/><circle cx="607.16" cy="281.59" r="0.28" fill="#3d0101"/><circle cx="604.78" cy="276.38" r="0.29" fill="#440101"/><circle cx="604.72" cy="287.5" r="0.52" fill="#460102"/><circle cx="586.15" cy="296.17" r="0.42" fill="#440101"/><circle cx="611.38" cy="296.17" r="0.37" fill="#410101"/><circle cx="622.69" cy="276.81" r="0.44" fill="#490102"/><circle cx="586.99" cy="290.32" r="0.54" fill="#4a0102"/><circle cx="598.56" cy="299.74" r="0.4" fill="#450101"/><circle cx="620.28" cy="275.76" r="0.44" fill="#4b0102"/></g>
<rect x="620.8" y="299.5" width="1.9" height="0.5" fill="#777"/>
<rect x="418.9" y="302.3" width="40.8" height="26.9" fill="#040000"/>
<g filter="url(#soft)"><circle cx="432.97" cy="324.9" r="0.39" fill="#470102"/><circle cx="440.3" cy="322.6" r="0.38" fill="#420101"/><circle cx="436.26" cy="317.12" r="0.33" fill="#580203"/><circle cx="452.15" cy="313.31" r="0.33" fill="#4c0102"/><circle cx="439.55" cy="327.77" r="0.49" fill="#520202"/><circle cx="432.67" cy="311.12" r="0.43" fill="#450101"/><circle cx="444.58" cy="322.94" r="0.47" fill="#3c0101"/><circle cx="454.42" cy="316.9" r="0.34" fill="#3c0101"/><circle cx="419.94" cy="307.91" r="0.43" fill="#5b0203"/><circle cx="445.49" cy="323.06" r="0.44" fill="#5b0203"/><circle cx="443.87" cy="318.96" r="0.43" fill="#530202"/><circle cx="446.39" cy="308.48" r="0.39" fill="#520202"/><circle cx="449.6" cy="305.66" r="0.25" fill="#410101"/><circle cx="450.06" cy="326.23" r="0.36" fill="#520202"/><circle cx="451.95" cy="323" r="0.32" fill="#4e0202"/><circle cx="431.54" cy="313.77" r="0.38" fill="#460101"/><circle cx="444.86" cy="326.73" r="0.42" fill="#3c0101"/><circle cx="421.24" cy="306.11" r="0.42" fill="#570203"/><circle cx="455.71" cy="314.4" r="0.36" fill="#3c0101"/><circle cx="442.91" cy="326.82" r="0.39" fill="#5d0203"/><circle cx="435.87" cy="305.68" r="0.31" fill="#510202"/><circle cx="425.65" cy="303.49" r="0.46" fill="#3c0101"/></g>
<rect x="455.5" y="327.7" width="1.9" height="0.5" fill="#777"/>
<rect x="460.7" y="302.3" width="40.7" height="26.9" fill="#090000"/>
<g filter="url(#soft)"><circle cx="466.26" cy="327.55" r="0.65" fill="#520202"/><circle cx="466.54" cy="303.55" r="0.4" fill="#7c0405"/><circle cx="490.18" cy="307.84" r="0.61" fill="#500202"/><circle cx="489.4" cy="324.74" r="0.33" fill="#7c0405"/><circle cx="486.08" cy="321.04" r="0.67" fill="#6b0304"/><circle cx="471.43" cy="327.5" r="0.3" fill="#7c0405"/><circle cx="462.08" cy="319.56" r="0.33" fill="#820405"/><circle cx="473.66" cy="321.55" r="0.64" fill="#570203"/><circle cx="480.52" cy="304.61" r="0.53" fill="#650303"/><circle cx="478.65" cy="320.23" r="0.62" fill="#560202"/><circle cx="475.7" cy="319.42" r="0.47" fill="#760404"/><circle cx="476.58" cy="322.99" r="0.61" fill="#8a0506"/><circle cx="483.66" cy="310.5" r="0.69" fill="#500202"/><circle cx="489" cy="324.03" r="0.54" fill="#620303"/><circle cx="499.72" cy="324.13" r="0.42" fill="#740304"/><circle cx="478.26" cy="325.57" r="0.57" fill="#650303"/><circle cx="485.03" cy="325.77" r="0.41" fill="#810405"/><circle cx="461.57" cy="309.76" r="0.53" fill="#680304"/><circle cx="493.41" cy="325.55" r="0.63" fill="#4f0202"/><circle cx="493.24" cy="325.04" r="0.41" fill="#720304"/><circle cx="494.78" cy="323.52" r="0.67" fill="#790405"/><circle cx="475.06" cy="305.25" r="0.62" fill="#710304"/><circle cx="469.34" cy="322.08" r="0.39" fill="#8a0405"/><circle cx="485.23" cy="320.24" r="0.38" fill="#6b0304"/><circle cx="471.46" cy="322.1" r="0.48" fill="#800405"/><circle cx="464.93" cy="323.51" r="0.39" fill="#7f0405"/><circle cx="484.16" cy="325.79" r="0.51" fill="#870405"/><circle cx="480.13" cy="318.01" r="0.38" fill="#590203"/><circle cx="468.57" cy="320.84" r="0.53" fill="#640303"/><circle cx="477.24" cy="316.19" r="0.32" fill="#560202"/><circle cx="500.49" cy="312.56" r="0.55" fill="#530202"/><circle cx="492.29" cy="307.05" r="0.44" fill="#740304"/><circle cx="481.81" cy="303.62" r="0.7" fill="#4f0202"/><circle cx="495.36" cy="315.4" r="0.4" fill="#720304"/><circle cx="491.97" cy="313.88" r="0.61" fill="#8b0506"/><circle cx="493.52" cy="327.48" r="0.32" fill="#5d0203"/><circle cx="469.36" cy="307.67" r="0.32" fill="#520202"/><circle cx="483.29" cy="325.13" r="0.68" fill="#6b0304"/><circle cx="497.08" cy="304.72" r="0.46" fill="#740304"/><circle cx="466.19" cy="327.37" r="0.53" fill="#5d0203"/><circle cx="486.55" cy="327.3" r="0.46" fill="#780404"/><circle cx="479.03" cy="307.14" r="0.7" fill="#8c0506"/><circle cx="470.17" cy="304.08" r="0.44" fill="#5d0203"/><circle cx="496.8" cy="325.99" r="0.32" fill="#830405"/><circle cx="492.25" cy="321.05" r="0.69" fill="#770404"/></g>
<rect x="497.2" y="327.7" width="1.9" height="0.5" fill="#777"/>
<rect x="502.2" y="302.3" width="40.5" height="26.9" fill="#090000"/>
<g filter="url(#soft)"><circle cx="505.17" cy="306.76" r="0.61" fill="#6e0304"/><circle cx="529.33" cy="310.66" r="0.54" fill="#650303"/><circle cx="507.1" cy="311.3" r="0.31" fill="#530202"/><circle cx="521.72" cy="307.37" r="0.32" fill="#520202"/><circle cx="529.36" cy="303.42" r="0.34" fill="#6c0304"/><circle cx="504.4" cy="326.57" r="0.61" fill="#510202"/><circle cx="536.72" cy="325.58" r="0.43" fill="#4d0202"/><circle cx="506.77" cy="326.6" r="0.5" fill="#730304"/><circle cx="520.6" cy="311.7" r="0.44" fill="#720304"/><circle cx="527.44" cy="306.71" r="0.29" fill="#510202"/><circle cx="530.76" cy="317.1" r="0.58" fill="#4d0202"/><circle cx="513.36" cy="313.52" r="0.37" fill="#4e0202"/><circle cx="535.66" cy="311.56" r="0.45" fill="#4e0202"/><circle cx="515.37" cy="325.95" r="0.62" fill="#4c0102"/><circle cx="505.21" cy="325.74" r="0.35" fill="#690304"/><circle cx="521.57" cy="310.34" r="0.34" fill="#530202"/><circle cx="517.17" cy="328.17" r="0.6" fill="#7b0405"/><circle cx="506.8" cy="310.42" r="0.29" fill="#760404"/><circle cx="531.26" cy="310.53" r="0.28" fill="#7a0405"/><circle cx="534.39" cy="311.72" r="0.27" fill="#4d0202"/><circle cx="535.37" cy="316.42" r="0.43" fill="#4f0202"/><circle cx="538.48" cy="308.62" r="0.32" fill="#640303"/><circle cx="510.01" cy="322.59" r="0.34" fill="#6c0304"/><circle cx="506.08" cy="305.31" r="0.45" fill="#660303"/><circle cx="513.65" cy="308.31" r="0.52" fill="#660303"/><circle cx="534.57" cy="317.85" r="0.29" fill="#500202"/><circle cx="531.5" cy="313.43" r="0.29" fill="#6c0304"/><circle cx="534.53" cy="311.58" r="0.58" fill="#730304"/><circle cx="522.18" cy="303.49" r="0.44" fill="#770404"/><circle cx="536.92" cy="309.84" r="0.57" fill="#4f0202"/><circle cx="517.28" cy="307.24" r="0.48" fill="#590203"/><circle cx="503.18" cy="316.25" r="0.46" fill="#5d0203"/><circle cx="507.7" cy="321.18" r="0.58" fill="#720304"/><circle cx="515.49" cy="321.09" r="0.54" fill="#5a0203"/><circle cx="505.38" cy="325.18" r="0.45" fill="#790405"/><circle cx="522.97" cy="316.52" r="0.28" fill="#620303"/><circle cx="540.63" cy="308.76" r="0.31" fill="#4f0202"/><circle cx="512.74" cy="323.77" r="0.3" fill="#470102"/><circle cx="530.19" cy="308.04" r="0.49" fill="#460102"/><circle cx="525.43" cy="316.33" r="0.31" fill="#6b0304"/></g>
<rect x="538.5" y="327.7" width="1.9" height="0.5" fill="#777"/>
<rect x="543.9" y="302.3" width="40.3" height="26.9" fill="#090000"/>
<g filter="url(#soft)"><circle cx="561.53" cy="321.24" r="0.49" fill="#7b0405"/><circle cx="554.25" cy="315.77" r="0.49" fill="#9a0506"/><circle cx="552.55" cy="306.56" r="0.9" fill="#c30709"/><circle cx="547.55" cy="317.59" r="0.51" fill="#d7080a"/><circle cx="560.68" cy="326.82" r="0.66" fill="#a90607"/><circle cx="560.95" cy="316.4" r="0.95" fill="#a90607"/><circle cx="559.73" cy="311.67" r="0.61" fill="#950506"/><circle cx="553.13" cy="327.92" r="0.93" fill="#df090a"/><circle cx="560.47" cy="324.55" r="0.71" fill="#7d0405"/><circle cx="563.23" cy="326.74" r="0.66" fill="#960506"/><circle cx="556.94" cy="312.32" r="0.46" fill="#bb0708"/><circle cx="553.08" cy="315.87" r="0.5" fill="#780404"/><circle cx="563.46" cy="322.75" r="0.77" fill="#f0090b"/><circle cx="560.36" cy="325.47" r="0.44" fill="#ea090b"/><circle cx="557.11" cy="309.82" r="0.57" fill="#cf080a"/><circle cx="555.19" cy="326.49" r="0.56" fill="#c70709"/><circle cx="554.77" cy="314.07" r="0.58" fill="#f10a0c"/><circle cx="550.61" cy="319.48" r="0.75" fill="#850405"/><circle cx="563.2" cy="316.1" r="0.68" fill="#990506"/><circle cx="555.03" cy="306.85" r="0.49" fill="#860405"/><circle cx="550.38" cy="313.39" r="0.56" fill="#9b0507"/><circle cx="546.4" cy="316.92" r="0.76" fill="#e4090b"/><circle cx="555.73" cy="319.55" r="0.82" fill="#900506"/><circle cx="553.62" cy="316.97" r="0.68" fill="#c60709"/><circle cx="550.71" cy="309.23" r="0.71" fill="#930506"/><circle cx="552.11" cy="317.92" r="0.62" fill="#770404"/><circle cx="561.38" cy="309.14" r="0.7" fill="#bf0709"/><circle cx="550.21" cy="328.08" r="0.85" fill="#9c0507"/><circle cx="547.77" cy="304.79" r="0.67" fill="#e8090b"/><circle cx="545.9" cy="312.91" r="0.83" fill="#af0608"/><circle cx="546.81" cy="308.8" r="0.83" fill="#f10a0c"/><circle cx="547.69" cy="311.63" r="0.8" fill="#a40607"/><circle cx="556.63" cy="324.6" r="0.71" fill="#e1090b"/><circle cx="559" cy="321.9" r="0.69" fill="#d9080a"/><circle cx="559.89" cy="321.03" r="0.49" fill="#ee090b"/><circle cx="561.55" cy="303.21" r="0.75" fill="#da080a"/><circle cx="554.33" cy="327.46" r="0.65" fill="#c10709"/><circle cx="559.86" cy="325.18" r="0.63" fill="#c50709"/><circle cx="553.45" cy="314.68" r="0.58" fill="#d4080a"/><circle cx="552.26" cy="317.15" r="0.6" fill="#a80607"/><circle cx="559.93" cy="324.59" r="0.67" fill="#b70708"/><circle cx="548.26" cy="310.79" r="0.74" fill="#890405"/><circle cx="555.95" cy="305.32" r="0.6" fill="#ee090b"/><circle cx="561.02" cy="324.31" r="0.53" fill="#f10a0c"/><circle cx="552.95" cy="326.14" r="0.45" fill="#770404"/><circle cx="573.3" cy="315.68" r="0.55" fill="#700304"/><circle cx="572.68" cy="328.36" r="0.46" fill="#5c0203"/><circle cx="576.09" cy="312.95" r="0.48" fill="#540202"/><circle cx="568.33" cy="327.08" r="0.46" fill="#640303"/><circle cx="562.48" cy="312.57" r="0.47" fill="#560202"/><circle cx="573.51" cy="325.36" r="0.45" fill="#720304"/><circle cx="570.4" cy="318.9" r="0.39" fill="#730304"/><circle cx="572.49" cy="323.74" r="0.38" fill="#4b0102"/><circle cx="582.9" cy="324" r="0.31" fill="#5b0203"/><circle cx="580.95" cy="320.55" r="0.63" fill="#6b0304"/><circle cx="580.8" cy="313.75" r="0.37" fill="#4a0102"/><circle cx="572.06" cy="315.87" r="0.34" fill="#4c0102"/><circle cx="574.81" cy="318.36" r="0.63" fill="#540202"/><circle cx="574.96" cy="304.17" r="0.55" fill="#560202"/><circle cx="567.3" cy="320.57" r="0.38" fill="#420101"/><circle cx="579.73" cy="317.93" r="0.34" fill="#630303"/><circle cx="571.74" cy="317.1" r="0.5" fill="#4f0202"/><circle cx="572.52" cy="328.33" r="0.42" fill="#5f0203"/><circle cx="563" cy="307.07" r="0.31" fill="#680303"/><circle cx="562.5" cy="307.41" r="0.57" fill="#5c0203"/><circle cx="574.41" cy="323.51" r="0.27" fill="#450101"/><circle cx="578.07" cy="311.27" r="0.4" fill="#650303"/><circle cx="564.11" cy="309.85" r="0.6" fill="#470102"/><circle cx="573.7" cy="311.93" r="0.41" fill="#580203"/><circle cx="561.45" cy="325.63" r="0.62" fill="#5f0203"/></g>
<rect x="580" y="327.7" width="1.9" height="0.5" fill="#777"/>
<rect x="585.1" y="302.3" width="39.9" height="26.9" fill="#070000"/>
<g filter="url(#soft)"><circle cx="591.79" cy="318.79" r="0.35" fill="#7c0405"/><circle cx="598.38" cy="324.72" r="0.73" fill="#830405"/><circle cx="596.84" cy="310.78" r="0.75" fill="#a00607"/><circle cx="592.54" cy="327.13" r="0.5" fill="#7c0405"/><circle cx="595.53" cy="308.7" r="0.72" fill="#820405"/><circle cx="592.39" cy="323.16" r="0.41" fill="#7c0405"/><circle cx="590.7" cy="307.82" r="0.46" fill="#c60709"/><circle cx="593.43" cy="306.01" r="0.5" fill="#990506"/><circle cx="591.3" cy="304.76" r="0.69" fill="#700304"/><circle cx="590.61" cy="309.3" r="0.45" fill="#760404"/><circle cx="589.08" cy="303.98" r="0.48" fill="#a70607"/><circle cx="587.99" cy="320.96" r="0.45" fill="#6c0304"/><circle cx="597.09" cy="306.33" r="0.7" fill="#900506"/><circle cx="596.69" cy="307.13" r="0.65" fill="#870405"/><circle cx="590.95" cy="327.35" r="0.75" fill="#780404"/><circle cx="592.67" cy="308.85" r="0.39" fill="#910506"/><circle cx="595.37" cy="309.7" r="0.59" fill="#bf0709"/><circle cx="590.83" cy="309.33" r="0.42" fill="#a10607"/><circle cx="597.59" cy="306.21" r="0.57" fill="#970506"/><circle cx="589.52" cy="322.63" r="0.62" fill="#8a0506"/><circle cx="593.51" cy="310.96" r="0.37" fill="#8b0506"/><circle cx="588.27" cy="324.63" r="0.62" fill="#840405"/><circle cx="587.36" cy="317.32" r="0.55" fill="#880405"/><circle cx="589.88" cy="304.77" r="0.43" fill="#830405"/><circle cx="587.59" cy="321.23" r="0.51" fill="#800405"/><circle cx="621.76" cy="322.71" r="0.52" fill="#5a0203"/><circle cx="600.93" cy="310.1" r="0.46" fill="#3c0101"/><circle cx="615.18" cy="311.99" r="0.45" fill="#490102"/><circle cx="616.14" cy="309.39" r="0.35" fill="#590203"/><circle cx="614.25" cy="307.7" r="0.53" fill="#3e0101"/><circle cx="617.07" cy="321.13" r="0.25" fill="#3c0101"/><circle cx="601.73" cy="308.11" r="0.36" fill="#450101"/><circle cx="598.44" cy="310.97" r="0.3" fill="#510202"/><circle cx="619.9" cy="317.53" r="0.32" fill="#540202"/><circle cx="609.05" cy="320.41" r="0.24" fill="#470102"/><circle cx="619.76" cy="322.74" r="0.25" fill="#440101"/><circle cx="620.29" cy="318.47" r="0.32" fill="#3c0101"/></g>
<rect x="620.8" y="327.7" width="1.9" height="0.5" fill="#777"/>
<rect x="418.9" y="330.5" width="40.8" height="26.9" fill="#050000"/>
<g filter="url(#soft)"><circle cx="424.06" cy="351.32" r="0.53" fill="#3f0101"/><circle cx="449.08" cy="333.48" r="0.37" fill="#4f0202"/><circle cx="449" cy="352.27" r="0.27" fill="#410101"/><circle cx="456.8" cy="342.03" r="0.46" fill="#570202"/><circle cx="448.65" cy="352.3" r="0.38" fill="#4d0202"/><circle cx="421.83" cy="348.97" r="0.4" fill="#460102"/><circle cx="456.08" cy="334.53" r="0.25" fill="#510202"/><circle cx="447.25" cy="351.69" r="0.41" fill="#410101"/><circle cx="457.7" cy="347.43" r="0.32" fill="#4a0102"/><circle cx="422.03" cy="340.35" r="0.3" fill="#460101"/><circle cx="431.87" cy="334.75" r="0.45" fill="#4f0202"/><circle cx="429.02" cy="337.42" r="0.38" fill="#490102"/><circle cx="456.39" cy="340.19" r="0.52" fill="#420101"/><circle cx="425.26" cy="345.55" r="0.5" fill="#430101"/><circle cx="441.19" cy="350.54" r="0.45" fill="#3e0101"/><circle cx="443.17" cy="342.97" r="0.51" fill="#510202"/><circle cx="424.19" cy="338.62" r="0.31" fill="#440101"/><circle cx="422.07" cy="338.41" r="0.46" fill="#3e0101"/><circle cx="437.26" cy="334.16" r="0.39" fill="#430101"/><circle cx="433.93" cy="335.55" r="0.24" fill="#3c0101"/><circle cx="458.59" cy="350.29" r="0.47" fill="#3c0101"/><circle cx="458.12" cy="345.56" r="0.4" fill="#3c0101"/></g>
<rect x="455.5" y="355.9" width="1.9" height="0.5" fill="#777"/>
<rect x="460.7" y="330.5" width="40.7" height="26.9" fill="#160000"/>
<g filter="url(#soft)"><circle cx="478.48" cy="336.1" r="0.24" fill="#650303"/><circle cx="497.45" cy="347.61" r="0.54" fill="#690304"/><circle cx="487.02" cy="337.66" r="0.28" fill="#540202"/><circle cx="462.58" cy="350.89" r="0.33" fill="#750304"/><circle cx="468.76" cy="347.44" r="0.54" fill="#760404"/><circle cx="468.09" cy="351.15" r="0.48" fill="#750304"/><circle cx="474.27" cy="335.97" r="0.34" fill="#740304"/><circle cx="475.91" cy="345.24" r="0.51" fill="#5b0203"/><circle cx="470.86" cy="332.34" r="0.44" fill="#660303"/><circle cx="493.55" cy="349.15" r="0.54" fill="#790404"/><circle cx="480.83" cy="343.94" r="0.34" fill="#4f0202"/><circle cx="484.22" cy="333.33" r="0.29" fill="#6d0304"/><circle cx="478.83" cy="355.84" r="0.25" fill="#4b0102"/><circle cx="478.68" cy="336.13" r="0.24" fill="#6f0304"/><circle cx="494.38" cy="352.94" r="0.38" fill="#720304"/><circle cx="472.58" cy="348.04" r="0.37" fill="#630303"/><circle cx="474.74" cy="342.4" r="0.5" fill="#6b0304"/><circle cx="496.85" cy="335.46" r="0.38" fill="#570203"/><circle cx="483.53" cy="340.11" r="0.27" fill="#510202"/><circle cx="474.16" cy="342.95" r="0.53" fill="#7d0405"/><circle cx="495.34" cy="355.95" r="0.44" fill="#7c0405"/><circle cx="493.22" cy="332.82" r="0.43" fill="#6c0304"/><circle cx="473.11" cy="345.75" r="0.39" fill="#7b0405"/><circle cx="486.81" cy="338.87" r="0.52" fill="#590203"/><circle cx="462.59" cy="336.08" r="0.38" fill="#6c0304"/><circle cx="464.83" cy="348.01" r="0.43" fill="#5b0203"/><circle cx="477.78" cy="344.71" r="0.37" fill="#660303"/><circle cx="465.97" cy="335.87" r="0.42" fill="#780404"/><circle cx="465.89" cy="353.11" r="0.27" fill="#540202"/><circle cx="482.25" cy="337.66" r="0.42" fill="#620303"/><circle cx="470.36" cy="345.79" r="0.4" fill="#4d0202"/><circle cx="484.51" cy="333.33" r="0.26" fill="#5d0203"/><circle cx="478.69" cy="353.15" r="0.47" fill="#650303"/><circle cx="491.09" cy="334.2" r="0.47" fill="#7e0405"/><circle cx="465.49" cy="352.3" r="0.29" fill="#5c0203"/><circle cx="499.04" cy="345.54" r="0.28" fill="#720304"/><circle cx="491.85" cy="332.76" r="0.36" fill="#540202"/><circle cx="462.09" cy="346.34" r="0.34" fill="#520202"/><circle cx="489.16" cy="342.08" r="0.44" fill="#780404"/><circle cx="495.6" cy="345.54" r="0.52" fill="#7a0405"/><circle cx="468.07" cy="350.16" r="0.48" fill="#590203"/><circle cx="488.11" cy="352.19" r="0.36" fill="#4d0202"/><circle cx="490.33" cy="355.29" r="0.25" fill="#6f0304"/><circle cx="485.11" cy="333.82" r="0.5" fill="#650303"/><circle cx="465.92" cy="354.71" r="0.32" fill="#6c0304"/><circle cx="469.05" cy="342.6" r="0.43" fill="#750304"/><circle cx="465.94" cy="331.83" r="0.5" fill="#4d0202"/><circle cx="468.74" cy="345.32" r="0.46" fill="#570202"/><circle cx="476.39" cy="334.95" r="0.41" fill="#770404"/><circle cx="488.46" cy="351.75" r="0.24" fill="#7b0405"/><circle cx="474.89" cy="335.12" r="0.52" fill="#620303"/><circle cx="492.8" cy="332.2" r="0.5" fill="#510202"/><circle cx="488.07" cy="341.23" r="0.29" fill="#610203"/><circle cx="494.54" cy="341.25" r="0.44" fill="#770404"/><circle cx="464.47" cy="339.63" r="0.53" fill="#520202"/><circle cx="484.54" cy="332.4" r="0.36" fill="#500202"/><circle cx="479.79" cy="345.9" r="0.35" fill="#5c0203"/><circle cx="461.73" cy="345.95" r="0.25" fill="#590203"/><circle cx="479.46" cy="356.26" r="0.29" fill="#490102"/><circle cx="487.74" cy="338.2" r="0.4" fill="#560202"/><circle cx="471.75" cy="345.69" r="0.55" fill="#640303"/><circle cx="500.29" cy="332.16" r="0.49" fill="#660303"/><circle cx="495.61" cy="350.89" r="0.44" fill="#6a0304"/><circle cx="475.69" cy="338.42" r="0.52" fill="#730304"/><circle cx="498.2" cy="348.54" r="0.48" fill="#570203"/><circle cx="490.42" cy="344.18" r="0.35" fill="#6a0304"/><circle cx="483.03" cy="341.57" r="0.35" fill="#4a0102"/><circle cx="474.14" cy="356.31" r="0.36" fill="#610303"/><circle cx="471.02" cy="337.24" r="0.28" fill="#5a0203"/><circle cx="461.78" cy="353.34" r="0.38" fill="#600203"/><circle cx="483.74" cy="338.95" r="0.26" fill="#500202"/><circle cx="473.29" cy="339.1" r="0.42" fill="#6f0304"/><circle cx="498.15" cy="339.91" r="0.43" fill="#7a0405"/><circle cx="464.63" cy="335.82" r="0.56" fill="#670303"/><circle cx="475.46" cy="350.89" r="0.52" fill="#5e0203"/><circle cx="464.15" cy="343.56" r="0.33" fill="#780404"/><circle cx="471.57" cy="331.88" r="0.33" fill="#500202"/><circle cx="489.04" cy="336.82" r="0.3" fill="#5d0203"/><circle cx="485.07" cy="353.16" r="0.3" fill="#6a0304"/><circle cx="490.2" cy="355.67" r="0.27" fill="#680304"/><circle cx="493.15" cy="353.45" r="0.28" fill="#590203"/><circle cx="468.86" cy="344.88" r="0.44" fill="#770404"/><circle cx="497.58" cy="336.67" r="0.48" fill="#590203"/><circle cx="486.87" cy="341.55" r="0.35" fill="#6c0304"/><circle cx="463.75" cy="341.78" r="0.44" fill="#490102"/><circle cx="474.58" cy="343.81" r="0.32" fill="#680303"/><circle cx="479.62" cy="331.64" r="0.42" fill="#7a0405"/><circle cx="500.11" cy="332.72" r="0.47" fill="#690304"/><circle cx="474.37" cy="333.66" r="0.29" fill="#4f0202"/><circle cx="491.5" cy="333.57" r="0.38" fill="#740304"/><circle cx="482.56" cy="346.19" r="0.45" fill="#650303"/><circle cx="485.02" cy="339.67" r="0.32" fill="#700304"/><circle cx="489.32" cy="350.61" r="0.34" fill="#720304"/><circle cx="491.71" cy="356.03" r="0.33" fill="#600203"/><circle cx="481.96" cy="355.11" r="0.24" fill="#4e0202"/><circle cx="480.1" cy="347.88" r="0.36" fill="#720304"/><circle cx="500.19" cy="337.07" r="0.27" fill="#710304"/><circle cx="462.59" cy="334.69" r="0.4" fill="#4a0102"/><circle cx="483.21" cy="335.9" r="0.36" fill="#7b0405"/><circle cx="467.34" cy="335.79" r="0.53" fill="#6f0304"/><circle cx="467.84" cy="332.03" r="0.32" fill="#720304"/><circle cx="499.91" cy="343.92" r="0.35" fill="#6a0304"/><circle cx="492.8" cy="342.94" r="0.53" fill="#580203"/><circle cx="465.72" cy="349.85" r="0.45" fill="#4a0102"/><circle cx="477.21" cy="353.16" r="0.42" fill="#4a0102"/><circle cx="477.53" cy="354.55" r="0.44" fill="#7b0405"/><circle cx="470.26" cy="337.67" r="0.38" fill="#550202"/><circle cx="470.55" cy="336.44" r="0.45" fill="#710304"/><circle cx="473.17" cy="356.46" r="0.42" fill="#520202"/><circle cx="467.63" cy="353.14" r="0.33" fill="#770404"/><circle cx="490.89" cy="352.12" r="0.35" fill="#560202"/><circle cx="480.49" cy="353.84" r="0.46" fill="#4f0202"/><circle cx="484.87" cy="342.76" r="0.52" fill="#670303"/><circle cx="469.7" cy="353.65" r="0.49" fill="#5a0203"/><circle cx="495.26" cy="335.91" r="0.56" fill="#770404"/><circle cx="473.14" cy="331.92" r="0.55" fill="#4d0202"/><circle cx="461.87" cy="354.36" r="0.48" fill="#4f0202"/><circle cx="465.31" cy="335.57" r="0.27" fill="#6c0304"/><circle cx="474.78" cy="354.54" r="0.52" fill="#6e0304"/><circle cx="499.8" cy="332.13" r="0.49" fill="#530202"/><circle cx="488.46" cy="332.26" r="0.31" fill="#620303"/><circle cx="478.33" cy="333.95" r="0.56" fill="#470102"/><circle cx="473.87" cy="353.53" r="0.4" fill="#4d0202"/><circle cx="466.81" cy="342.14" r="0.46" fill="#500202"/><circle cx="467.28" cy="349.98" r="0.28" fill="#620303"/><circle cx="475.32" cy="343.86" r="0.35" fill="#7a0405"/><circle cx="469.91" cy="355.78" r="0.47" fill="#780404"/><circle cx="472.17" cy="335.78" r="0.26" fill="#550202"/><circle cx="463.19" cy="344.17" r="0.42" fill="#5d0203"/><circle cx="475.68" cy="331.57" r="0.45" fill="#6d0304"/><circle cx="482.77" cy="345.18" r="0.55" fill="#6d0304"/><circle cx="495.68" cy="349.46" r="0.34" fill="#5d0203"/><circle cx="477.89" cy="355.92" r="0.36" fill="#5c0203"/><circle cx="477.53" cy="334.92" r="0.24" fill="#7e0405"/><circle cx="485.27" cy="354.73" r="0.44" fill="#550202"/><circle cx="476.24" cy="337.39" r="0.28" fill="#510202"/><circle cx="494.46" cy="351.13" r="0.26" fill="#790405"/><circle cx="488.64" cy="339.51" r="0.42" fill="#6a0304"/><circle cx="473.84" cy="355.88" r="0.48" fill="#460102"/><circle cx="494.87" cy="344.21" r="0.56" fill="#670303"/><circle cx="470.67" cy="347.23" r="0.36" fill="#700304"/><circle cx="489.35" cy="341.26" r="0.44" fill="#640303"/><circle cx="487.98" cy="339.45" r="0.41" fill="#690304"/><circle cx="470.23" cy="346.8" r="0.53" fill="#550202"/><circle cx="480.01" cy="349.56" r="0.39" fill="#630303"/><circle cx="470.15" cy="334.89" r="0.41" fill="#7a0405"/><circle cx="481.99" cy="344.65" r="0.32" fill="#740304"/><circle cx="468.24" cy="352.09" r="0.44" fill="#600203"/><circle cx="493.85" cy="353.92" r="0.25" fill="#770404"/><circle cx="476.41" cy="352.35" r="0.28" fill="#740304"/><circle cx="467.52" cy="337.66" r="0.35" fill="#4c0102"/><circle cx="492.91" cy="344.49" r="0.27" fill="#600203"/><circle cx="476.97" cy="356.52" r="0.38" fill="#6d0304"/><circle cx="480.2" cy="351.5" r="0.29" fill="#710304"/><circle cx="488.1" cy="340.58" r="0.32" fill="#630303"/><circle cx="476" cy="339.9" r="0.25" fill="#5c0203"/><circle cx="469.35" cy="345.73" r="0.3" fill="#4a0102"/><circle cx="489.58" cy="338.25" r="0.32" fill="#580203"/><circle cx="494.11" cy="333.61" r="0.51" fill="#6a0304"/><circle cx="469.39" cy="342.01" r="0.44" fill="#730304"/><circle cx="476.03" cy="332.41" r="0.36" fill="#5f0203"/><circle cx="489.36" cy="338.77" r="0.45" fill="#5d0203"/><circle cx="493.2" cy="340.21" r="0.43" fill="#5c0203"/><circle cx="497.66" cy="336.15" r="0.47" fill="#7d0405"/><circle cx="476.06" cy="348.14" r="0.26" fill="#590203"/><circle cx="491.06" cy="340.9" r="0.4" fill="#640303"/><circle cx="496.74" cy="350.45" r="0.43" fill="#480102"/><circle cx="479.59" cy="342.99" r="0.37" fill="#750304"/><circle cx="480.02" cy="353.83" r="0.4" fill="#5f0203"/><circle cx="481.51" cy="352.16" r="0.48" fill="#6c0304"/></g>
<rect x="497.2" y="355.9" width="1.9" height="0.5" fill="#777"/>
<rect x="502.2" y="330.5" width="40.5" height="26.9" fill="#040000"/>
<g filter="url(#soft)"><circle cx="510.81" cy="332.33" r="0.42" fill="#530202"/><circle cx="517.96" cy="350.78" r="0.31" fill="#3e0101"/><circle cx="504.5" cy="351.98" r="0.27" fill="#3e0101"/><circle cx="517.65" cy="345.58" r="0.46" fill="#3c0101"/><circle cx="516.83" cy="343.51" r="0.46" fill="#3c0101"/><circle cx="511.13" cy="346.07" r="0.5" fill="#5e0203"/><circle cx="519.96" cy="334.98" r="0.41" fill="#460102"/><circle cx="503.12" cy="356.31" r="0.32" fill="#440101"/><circle cx="509.09" cy="337.75" r="0.42" fill="#590203"/><circle cx="512.94" cy="341.93" r="0.34" fill="#3c0101"/><circle cx="519.86" cy="351.59" r="0.32" fill="#590203"/><circle cx="506.93" cy="332.62" r="0.36" fill="#4d0202"/></g>
<rect x="538.5" y="355.9" width="1.9" height="0.5" fill="#777"/>
<rect x="543.9" y="330.5" width="40.3" height="26.9" fill="#0d0000"/>
<g filter="url(#soft)"><circle cx="557.28" cy="343.67" r="0.49" fill="#9e0507"/><circle cx="566.41" cy="336.37" r="0.57" fill="#c10709"/><circle cx="546.09" cy="339.25" r="0.51" fill="#990506"/><circle cx="560" cy="339.49" r="0.68" fill="#7f0405"/><circle cx="552.6" cy="349.28" r="0.59" fill="#b50708"/><circle cx="557.02" cy="354.95" r="0.72" fill="#900506"/><circle cx="546.26" cy="342.27" r="0.35" fill="#a40607"/><circle cx="568.07" cy="333.12" r="0.41" fill="#a00607"/><circle cx="569.69" cy="345.49" r="0.55" fill="#b40708"/><circle cx="562.95" cy="348.38" r="0.42" fill="#810405"/><circle cx="567.41" cy="334.99" r="0.42" fill="#c00709"/><circle cx="547.43" cy="333.71" r="0.75" fill="#b30608"/><circle cx="555.93" cy="347.97" r="0.73" fill="#7d0405"/><circle cx="563.28" cy="335.22" r="0.64" fill="#690304"/><circle cx="545.83" cy="352.45" r="0.43" fill="#810405"/><circle cx="560.47" cy="339.36" r="0.4" fill="#9c0507"/><circle cx="569.4" cy="339.51" r="0.4" fill="#b90708"/><circle cx="566.35" cy="356.1" r="0.34" fill="#8b0506"/><circle cx="554.99" cy="347.51" r="0.57" fill="#7a0405"/><circle cx="547.24" cy="343.05" r="0.52" fill="#ad0608"/><circle cx="563.09" cy="334.19" r="0.38" fill="#b70708"/><circle cx="569.71" cy="356.5" r="0.56" fill="#c30709"/><circle cx="552.58" cy="340.1" r="0.55" fill="#af0608"/><circle cx="569.89" cy="333.65" r="0.71" fill="#940506"/><circle cx="560.89" cy="344.98" r="0.39" fill="#6c0304"/><circle cx="552.05" cy="353.89" r="0.43" fill="#b90708"/><circle cx="569.75" cy="332.12" r="0.76" fill="#a00607"/><circle cx="554.03" cy="355.19" r="0.35" fill="#a60607"/><circle cx="553.72" cy="342.68" r="0.66" fill="#7c0405"/><circle cx="549.55" cy="351.23" r="0.36" fill="#810405"/><circle cx="559.85" cy="333.72" r="0.68" fill="#9b0507"/><circle cx="560.83" cy="342.97" r="0.56" fill="#660303"/><circle cx="547.33" cy="347.66" r="0.58" fill="#700304"/><circle cx="554.26" cy="340.78" r="0.4" fill="#a60607"/><circle cx="549.3" cy="355.12" r="0.7" fill="#850405"/><circle cx="568.36" cy="343.45" r="0.37" fill="#720304"/><circle cx="568.51" cy="334.26" r="0.57" fill="#950506"/><circle cx="547.89" cy="343.14" r="0.57" fill="#740304"/><circle cx="558.43" cy="340.58" r="0.51" fill="#770404"/><circle cx="550.21" cy="334.52" r="0.71" fill="#7b0405"/><circle cx="558.29" cy="353.83" r="0.75" fill="#650303"/><circle cx="557.93" cy="351.31" r="0.63" fill="#9d0507"/><circle cx="550.91" cy="350.28" r="0.45" fill="#730304"/><circle cx="545.54" cy="341.25" r="0.46" fill="#980506"/><circle cx="568.82" cy="333.43" r="0.43" fill="#9e0507"/><circle cx="560.83" cy="351.14" r="0.36" fill="#ab0607"/><circle cx="551.36" cy="346.46" r="0.35" fill="#c70709"/><circle cx="561.45" cy="348.8" r="0.48" fill="#b60708"/><circle cx="566.66" cy="342.98" r="0.33" fill="#c10709"/><circle cx="570.17" cy="341.72" r="0.37" fill="#8c0506"/><circle cx="554.18" cy="349.86" r="0.36" fill="#7d0405"/><circle cx="558.03" cy="334.85" r="0.39" fill="#5c0203"/><circle cx="557.51" cy="355.99" r="0.62" fill="#930506"/><circle cx="563.27" cy="343.88" r="0.66" fill="#840405"/><circle cx="573.78" cy="347.4" r="0.55" fill="#5c0203"/><circle cx="577.43" cy="351.2" r="0.59" fill="#550202"/><circle cx="558.21" cy="335.4" r="0.57" fill="#910506"/><circle cx="573.55" cy="334.71" r="0.67" fill="#880405"/><circle cx="579.72" cy="350.15" r="0.62" fill="#880405"/><circle cx="567.55" cy="342.31" r="0.61" fill="#870405"/><circle cx="578.4" cy="338.86" r="0.51" fill="#910506"/><circle cx="581.31" cy="334.23" r="0.61" fill="#910506"/><circle cx="554.45" cy="352.51" r="0.38" fill="#5f0203"/><circle cx="562.42" cy="337.29" r="0.66" fill="#700304"/><circle cx="571.22" cy="349.27" r="0.61" fill="#6a0304"/><circle cx="575.41" cy="348.58" r="0.63" fill="#8f0506"/><circle cx="560.42" cy="333.5" r="0.63" fill="#7b0405"/><circle cx="557.84" cy="346.35" r="0.62" fill="#880405"/><circle cx="544.87" cy="343.67" r="0.34" fill="#500202"/><circle cx="576.14" cy="341.89" r="0.48" fill="#780404"/><circle cx="557.68" cy="336.71" r="0.64" fill="#670303"/><circle cx="568.67" cy="338.69" r="0.41" fill="#550202"/><circle cx="571.84" cy="342.48" r="0.62" fill="#7c0405"/><circle cx="549.37" cy="348.58" r="0.63" fill="#510202"/><circle cx="551.82" cy="338.17" r="0.44" fill="#910506"/></g>
<rect x="580" y="355.9" width="1.9" height="0.5" fill="#777"/>
<rect x="585.1" y="330.5" width="39.9" height="26.9" fill="#070000"/>
<g filter="url(#soft)"><circle cx="591.05" cy="353.81" r="0.66" fill="#890405"/><circle cx="594.96" cy="343.94" r="0.5" fill="#a50607"/><circle cx="608.62" cy="336.09" r="0.36" fill="#9b0506"/><circle cx="598.01" cy="331.31" r="0.68" fill="#650303"/><circle cx="596.35" cy="351.78" r="0.44" fill="#6b0304"/><circle cx="588.22" cy="345.28" r="0.51" fill="#9d0507"/><circle cx="594.56" cy="354.79" r="0.57" fill="#a00607"/><circle cx="587.64" cy="347.09" r="0.68" fill="#7b0405"/><circle cx="594.21" cy="348.03" r="0.45" fill="#8b0506"/><circle cx="597.9" cy="348.42" r="0.5" fill="#a10607"/><circle cx="594.26" cy="356" r="0.63" fill="#5b0203"/><circle cx="601.61" cy="345.4" r="0.6" fill="#7b0405"/><circle cx="606.38" cy="349.74" r="0.31" fill="#940506"/><circle cx="593.37" cy="334.77" r="0.66" fill="#a50607"/><circle cx="589.22" cy="346.16" r="0.32" fill="#860405"/><circle cx="594.91" cy="350.21" r="0.41" fill="#8b0506"/><circle cx="603.42" cy="338.67" r="0.47" fill="#830405"/><circle cx="608.38" cy="347.71" r="0.57" fill="#990506"/><circle cx="594.64" cy="355.66" r="0.58" fill="#910506"/><circle cx="592.28" cy="335.4" r="0.63" fill="#860405"/><circle cx="604.14" cy="340.09" r="0.51" fill="#620303"/><circle cx="606.06" cy="335.4" r="0.37" fill="#930506"/><circle cx="593.07" cy="332.65" r="0.45" fill="#6f0304"/><circle cx="608.12" cy="355.64" r="0.42" fill="#660303"/><circle cx="607.59" cy="336.29" r="0.48" fill="#710304"/><circle cx="590.05" cy="337.88" r="0.36" fill="#480102"/><circle cx="622.81" cy="338.05" r="0.53" fill="#410101"/><circle cx="603.14" cy="352.48" r="0.49" fill="#510202"/><circle cx="597.96" cy="335.15" r="0.39" fill="#550202"/><circle cx="607.3" cy="348.27" r="0.33" fill="#550202"/><circle cx="599.79" cy="354.51" r="0.33" fill="#4d0202"/><circle cx="610.04" cy="337.87" r="0.25" fill="#560202"/><circle cx="617.56" cy="345.63" r="0.54" fill="#470102"/><circle cx="596.07" cy="337.46" r="0.42" fill="#3d0101"/><circle cx="614.77" cy="348.46" r="0.5" fill="#490102"/></g>
<rect x="620.8" y="355.9" width="1.9" height="0.5" fill="#777"/>
<rect x="418.9" y="358.8" width="40.8" height="26.9" fill="#030000"/>
<g filter="url(#soft)"><circle cx="424.06" cy="367.37" r="0.55" fill="#490102"/><circle cx="444.55" cy="377.11" r="0.37" fill="#4d0202"/><circle cx="456.56" cy="378.38" r="0.37" fill="#400101"/><circle cx="451.28" cy="368.45" r="0.52" fill="#3c0101"/><circle cx="440.55" cy="372.79" r="0.53" fill="#4a0102"/><circle cx="424.94" cy="368.17" r="0.37" fill="#3c0101"/><circle cx="439.38" cy="381.15" r="0.42" fill="#4a0102"/><circle cx="435.52" cy="374.12" r="0.51" fill="#3e0101"/><circle cx="450.61" cy="380.81" r="0.45" fill="#3c0101"/><circle cx="449.26" cy="372.26" r="0.53" fill="#500202"/></g>
<rect x="455.5" y="384.2" width="1.9" height="0.5" fill="#777"/>
<rect x="460.7" y="358.8" width="40.7" height="26.9" fill="#070000"/>
<g filter="url(#soft)"><circle cx="490.55" cy="380.82" r="0.78" fill="#880405"/><circle cx="466.63" cy="378.16" r="0.65" fill="#8c0506"/><circle cx="472.26" cy="363.66" r="0.76" fill="#840405"/><circle cx="472.18" cy="366.98" r="0.41" fill="#660303"/><circle cx="487.93" cy="384.33" r="0.53" fill="#940506"/><circle cx="488.85" cy="363.77" r="0.52" fill="#970506"/><circle cx="461.63" cy="376.46" r="0.49" fill="#600203"/><circle cx="463.81" cy="372.28" r="0.75" fill="#800405"/><circle cx="463.05" cy="380.97" r="0.47" fill="#5d0203"/><circle cx="486.11" cy="369.87" r="0.63" fill="#6f0304"/><circle cx="470.02" cy="380.2" r="0.76" fill="#650303"/><circle cx="493.12" cy="374.36" r="0.73" fill="#570203"/><circle cx="462.61" cy="373.62" r="0.39" fill="#760404"/><circle cx="486.13" cy="378.63" r="0.55" fill="#830405"/><circle cx="481.52" cy="375.54" r="0.78" fill="#670303"/><circle cx="500.43" cy="380.44" r="0.52" fill="#a00607"/><circle cx="500.06" cy="363.76" r="0.42" fill="#7a0405"/><circle cx="479.25" cy="377.67" r="0.58" fill="#8c0506"/><circle cx="474.86" cy="366.45" r="0.5" fill="#740304"/><circle cx="469.09" cy="378.89" r="0.57" fill="#7d0405"/><circle cx="469.23" cy="378.15" r="0.49" fill="#640303"/><circle cx="483.41" cy="378.1" r="0.72" fill="#a10607"/><circle cx="498.58" cy="383.08" r="0.71" fill="#8e0506"/><circle cx="463.95" cy="366.81" r="0.77" fill="#560202"/><circle cx="489.73" cy="376.48" r="0.53" fill="#690304"/><circle cx="467.9" cy="376.53" r="0.51" fill="#a30607"/><circle cx="463.23" cy="366.12" r="0.79" fill="#710304"/><circle cx="492.96" cy="372.49" r="0.41" fill="#5d0203"/><circle cx="467.52" cy="379.83" r="0.84" fill="#7a0405"/><circle cx="497.15" cy="380.23" r="0.75" fill="#7a0405"/><circle cx="466.52" cy="362.35" r="0.4" fill="#540202"/><circle cx="469.68" cy="365.97" r="0.53" fill="#3e0101"/><circle cx="489.27" cy="383.52" r="0.38" fill="#650303"/><circle cx="490.14" cy="369.32" r="0.51" fill="#5e0203"/><circle cx="466.73" cy="359.93" r="0.43" fill="#460102"/><circle cx="476.32" cy="359.83" r="0.49" fill="#5f0203"/><circle cx="479.63" cy="360.69" r="0.41" fill="#620303"/><circle cx="464.28" cy="367.78" r="0.52" fill="#570202"/><circle cx="480.45" cy="375.78" r="0.32" fill="#460101"/><circle cx="496.92" cy="369.28" r="0.43" fill="#410101"/><circle cx="466.44" cy="364.66" r="0.43" fill="#500202"/><circle cx="486.38" cy="377.49" r="0.26" fill="#4f0202"/><circle cx="489.83" cy="360.96" r="0.37" fill="#500202"/><circle cx="487.81" cy="377.66" r="0.45" fill="#470102"/><circle cx="488.56" cy="371.53" r="0.53" fill="#430101"/></g>
<rect x="497.2" y="384.2" width="1.9" height="0.5" fill="#777"/>
<rect x="502.2" y="358.8" width="40.5" height="26.9" fill="#0c0000"/>
<g filter="url(#soft)"><circle cx="526.3" cy="361.19" r="0.76" fill="#670303"/><circle cx="511.9" cy="369.53" r="0.69" fill="#930506"/><circle cx="527.66" cy="378.36" r="0.37" fill="#580203"/><circle cx="540.97" cy="379.91" r="0.35" fill="#580203"/><circle cx="512.35" cy="383.15" r="0.63" fill="#660303"/><circle cx="539.19" cy="375.76" r="0.45" fill="#9d0507"/><circle cx="508.97" cy="360.06" r="0.38" fill="#900506"/><circle cx="540.86" cy="377.56" r="0.69" fill="#630303"/><circle cx="509.33" cy="372.56" r="0.68" fill="#5d0203"/><circle cx="537.61" cy="382.78" r="0.7" fill="#550202"/><circle cx="524.62" cy="380.38" r="0.6" fill="#7c0405"/><circle cx="526.13" cy="379.83" r="0.35" fill="#5b0203"/><circle cx="524.22" cy="366.96" r="0.33" fill="#740304"/><circle cx="531.98" cy="360.21" r="0.69" fill="#960506"/><circle cx="520.82" cy="362.69" r="0.42" fill="#880405"/><circle cx="519.69" cy="362.39" r="0.57" fill="#a20607"/><circle cx="516.71" cy="361.98" r="0.7" fill="#8e0506"/><circle cx="536" cy="362.17" r="0.46" fill="#720304"/><circle cx="532.66" cy="363.34" r="0.76" fill="#840405"/><circle cx="532.91" cy="359.78" r="0.38" fill="#5b0203"/><circle cx="529.94" cy="374.75" r="0.53" fill="#7e0405"/><circle cx="518.85" cy="375.06" r="0.73" fill="#880405"/><circle cx="531.5" cy="379.75" r="0.7" fill="#9d0507"/><circle cx="530.88" cy="360.37" r="0.7" fill="#8a0506"/><circle cx="519.76" cy="381.82" r="0.74" fill="#630303"/><circle cx="520.18" cy="377.47" r="0.46" fill="#690304"/><circle cx="516.56" cy="367.81" r="0.52" fill="#5c0203"/><circle cx="541.16" cy="376.15" r="0.67" fill="#9e0507"/><circle cx="535.55" cy="384.75" r="0.45" fill="#900506"/><circle cx="512.72" cy="370.03" r="0.43" fill="#560202"/><circle cx="537.48" cy="382.9" r="0.67" fill="#6f0304"/><circle cx="533.15" cy="382.11" r="0.56" fill="#930506"/><circle cx="507.08" cy="380.48" r="0.61" fill="#6d0304"/><circle cx="517.28" cy="373.19" r="0.4" fill="#a10607"/><circle cx="523.65" cy="376.04" r="0.74" fill="#7f0405"/><circle cx="518.85" cy="382.72" r="0.76" fill="#8b0506"/><circle cx="506.49" cy="364.97" r="0.73" fill="#6b0304"/><circle cx="503.53" cy="366.18" r="0.77" fill="#8d0506"/><circle cx="509.86" cy="370.68" r="0.63" fill="#8b0506"/><circle cx="532.02" cy="378.65" r="0.44" fill="#680304"/><circle cx="504.08" cy="377.09" r="0.44" fill="#650303"/><circle cx="540.51" cy="375.88" r="0.62" fill="#830405"/><circle cx="526.26" cy="377.18" r="0.36" fill="#6d0304"/><circle cx="505.6" cy="359.97" r="0.39" fill="#710304"/><circle cx="507.39" cy="372.09" r="0.63" fill="#a10607"/><circle cx="513.64" cy="379.07" r="0.37" fill="#630303"/><circle cx="514.79" cy="369.95" r="0.53" fill="#8b0506"/><circle cx="531.33" cy="362" r="0.48" fill="#9e0507"/><circle cx="535.38" cy="360.38" r="0.43" fill="#960506"/><circle cx="536.26" cy="379.91" r="0.45" fill="#890405"/><circle cx="503.38" cy="364.41" r="0.4" fill="#9c0507"/><circle cx="528.64" cy="374.45" r="0.41" fill="#890405"/><circle cx="508.59" cy="362.06" r="0.5" fill="#a20607"/><circle cx="528.37" cy="374.01" r="0.36" fill="#660303"/><circle cx="503.58" cy="381.17" r="0.75" fill="#5f0203"/><circle cx="517.15" cy="377.88" r="0.68" fill="#600203"/><circle cx="512.79" cy="368.87" r="0.38" fill="#7e0405"/><circle cx="512.66" cy="379.74" r="0.5" fill="#6b0304"/><circle cx="532.75" cy="365.27" r="0.43" fill="#640303"/><circle cx="517.94" cy="368.84" r="0.54" fill="#870405"/><circle cx="536.83" cy="360.88" r="0.7" fill="#890405"/><circle cx="512.13" cy="360.34" r="0.38" fill="#770404"/><circle cx="520.89" cy="377.6" r="0.38" fill="#5c0203"/><circle cx="521.65" cy="364" r="0.52" fill="#670303"/><circle cx="507.6" cy="361.32" r="0.54" fill="#710304"/><circle cx="539.43" cy="373.64" r="0.43" fill="#5a0203"/><circle cx="531.95" cy="373.84" r="0.75" fill="#990506"/><circle cx="536.37" cy="362.38" r="0.56" fill="#9f0607"/><circle cx="512.33" cy="363.92" r="0.42" fill="#990506"/><circle cx="506.23" cy="366.31" r="0.53" fill="#9d0507"/><circle cx="531.45" cy="361.48" r="0.47" fill="#780404"/><circle cx="510.99" cy="376.37" r="0.38" fill="#710304"/><circle cx="541.28" cy="371.78" r="0.33" fill="#630303"/><circle cx="528.4" cy="372.62" r="0.54" fill="#570202"/><circle cx="531.8" cy="373.19" r="0.55" fill="#670303"/><circle cx="526.53" cy="376.07" r="0.68" fill="#600203"/><circle cx="539.78" cy="378.33" r="0.49" fill="#980506"/><circle cx="538.12" cy="364.2" r="0.59" fill="#670303"/><circle cx="538.07" cy="361.67" r="0.35" fill="#660303"/><circle cx="520.08" cy="363.15" r="0.66" fill="#640303"/><circle cx="525.69" cy="383.37" r="0.63" fill="#740304"/><circle cx="503.49" cy="383.59" r="0.54" fill="#670303"/><circle cx="522.9" cy="383.59" r="0.77" fill="#7b0405"/><circle cx="527.17" cy="365.07" r="0.42" fill="#960506"/><circle cx="541.88" cy="371.15" r="0.75" fill="#670303"/><circle cx="515.52" cy="369.9" r="0.62" fill="#700304"/><circle cx="503.89" cy="369.06" r="0.69" fill="#610303"/><circle cx="503.01" cy="374.97" r="0.53" fill="#690304"/><circle cx="524.86" cy="377.61" r="0.44" fill="#600203"/><circle cx="507.69" cy="383.89" r="0.39" fill="#600203"/></g>
<rect x="538.5" y="384.2" width="1.9" height="0.5" fill="#777"/>
<rect x="543.9" y="358.8" width="40.3" height="26.9" fill="#200000"/>
<g filter="url(#soft)"><circle cx="564.91" cy="374.31" r="0.29" fill="#8c0506"/><circle cx="553.77" cy="363.84" r="0.43" fill="#770404"/><circle cx="560.53" cy="382.08" r="0.58" fill="#7c0405"/><circle cx="581.73" cy="366.4" r="0.42" fill="#8f0506"/><circle cx="546.7" cy="382.74" r="0.28" fill="#560202"/><circle cx="555.91" cy="366.91" r="0.58" fill="#910506"/><circle cx="560.96" cy="372.99" r="0.56" fill="#890405"/><circle cx="569.99" cy="372.57" r="0.36" fill="#570202"/><circle cx="570.17" cy="374.43" r="0.59" fill="#860405"/><circle cx="581.94" cy="364.47" r="0.59" fill="#540202"/><circle cx="566.77" cy="364.19" r="0.36" fill="#7e0405"/><circle cx="553.85" cy="368.87" r="0.51" fill="#730304"/><circle cx="547.54" cy="378.35" r="0.44" fill="#7a0405"/><circle cx="570.71" cy="379.83" r="0.44" fill="#4f0202"/><circle cx="570.94" cy="377.54" r="0.33" fill="#7b0405"/><circle cx="581.79" cy="379.48" r="0.43" fill="#5f0203"/><circle cx="581.77" cy="364.84" r="0.62" fill="#6b0304"/><circle cx="579.53" cy="365.48" r="0.4" fill="#810405"/><circle cx="570.37" cy="379" r="0.35" fill="#570203"/><circle cx="553.02" cy="366.33" r="0.32" fill="#510202"/><circle cx="560.42" cy="370.25" r="0.48" fill="#540202"/><circle cx="581.17" cy="374.2" r="0.52" fill="#670303"/><circle cx="561.62" cy="364.04" r="0.28" fill="#700304"/><circle cx="570.86" cy="363.67" r="0.62" fill="#680304"/><circle cx="574.37" cy="380.74" r="0.5" fill="#7b0405"/><circle cx="571.98" cy="384.05" r="0.55" fill="#5c0203"/><circle cx="556.34" cy="366.07" r="0.49" fill="#870405"/><circle cx="577.58" cy="381.74" r="0.34" fill="#770404"/><circle cx="545.28" cy="373.13" r="0.37" fill="#810405"/><circle cx="547.41" cy="359.72" r="0.52" fill="#5a0203"/><circle cx="544.85" cy="365.42" r="0.53" fill="#610203"/><circle cx="582.9" cy="360.09" r="0.61" fill="#560202"/><circle cx="582.24" cy="363.36" r="0.46" fill="#660303"/><circle cx="557.09" cy="370.16" r="0.36" fill="#700304"/><circle cx="546.83" cy="361.72" r="0.3" fill="#5a0203"/><circle cx="568.85" cy="377.22" r="0.56" fill="#610203"/><circle cx="572.9" cy="368.24" r="0.34" fill="#700304"/><circle cx="580.65" cy="373.78" r="0.33" fill="#520202"/><circle cx="571.5" cy="369.35" r="0.35" fill="#800405"/><circle cx="575.55" cy="379.89" r="0.48" fill="#550202"/><circle cx="552.1" cy="377.51" r="0.55" fill="#860405"/><circle cx="553.65" cy="361.96" r="0.47" fill="#7c0405"/><circle cx="550.05" cy="364.48" r="0.31" fill="#770404"/><circle cx="569.23" cy="365.7" r="0.42" fill="#600203"/><circle cx="565.33" cy="377.93" r="0.53" fill="#510202"/><circle cx="553.25" cy="366.96" r="0.52" fill="#7b0405"/><circle cx="568.49" cy="382.42" r="0.38" fill="#5d0203"/><circle cx="570.34" cy="366.2" r="0.35" fill="#590203"/><circle cx="574.55" cy="380.52" r="0.62" fill="#800405"/><circle cx="575.44" cy="367.43" r="0.53" fill="#640303"/><circle cx="546.85" cy="375.01" r="0.29" fill="#550202"/><circle cx="564.58" cy="363.43" r="0.59" fill="#8f0506"/><circle cx="562.57" cy="364.6" r="0.45" fill="#570203"/><circle cx="564.87" cy="368.78" r="0.46" fill="#800405"/><circle cx="574.71" cy="362.29" r="0.41" fill="#530202"/><circle cx="563.41" cy="365.99" r="0.35" fill="#7d0405"/><circle cx="557.02" cy="371.67" r="0.55" fill="#800405"/><circle cx="559.08" cy="370.91" r="0.61" fill="#8e0506"/><circle cx="568.65" cy="362.26" r="0.5" fill="#6e0304"/><circle cx="555.48" cy="360.55" r="0.6" fill="#920506"/><circle cx="549.69" cy="371.39" r="0.38" fill="#790405"/><circle cx="547.35" cy="378.59" r="0.43" fill="#840405"/><circle cx="548.02" cy="369.56" r="0.62" fill="#550202"/><circle cx="546.68" cy="366.89" r="0.32" fill="#830405"/><circle cx="548.82" cy="361.39" r="0.46" fill="#5a0203"/><circle cx="576.94" cy="363.88" r="0.55" fill="#5b0203"/><circle cx="561.18" cy="368.15" r="0.36" fill="#570203"/><circle cx="582.31" cy="362.56" r="0.54" fill="#600203"/><circle cx="579.21" cy="382.48" r="0.61" fill="#6f0304"/><circle cx="568.08" cy="366.9" r="0.53" fill="#6f0304"/><circle cx="573.11" cy="362.88" r="0.61" fill="#5c0203"/><circle cx="548.84" cy="380.18" r="0.36" fill="#660303"/><circle cx="554.57" cy="371.47" r="0.32" fill="#930506"/><circle cx="577.77" cy="367.73" r="0.54" fill="#5a0203"/><circle cx="557.92" cy="364.34" r="0.57" fill="#6b0304"/><circle cx="578.1" cy="374.14" r="0.54" fill="#4f0202"/><circle cx="568.17" cy="382.35" r="0.39" fill="#900506"/><circle cx="577.54" cy="380.32" r="0.4" fill="#610203"/><circle cx="559.2" cy="368.53" r="0.31" fill="#690304"/><circle cx="553.49" cy="382.61" r="0.5" fill="#6b0304"/><circle cx="579.04" cy="378.72" r="0.6" fill="#5f0203"/><circle cx="575.82" cy="384.66" r="0.54" fill="#810405"/><circle cx="576.16" cy="366.01" r="0.41" fill="#7c0405"/><circle cx="577.2" cy="362.98" r="0.39" fill="#740304"/><circle cx="576.46" cy="368.34" r="0.58" fill="#890405"/><circle cx="578.71" cy="363.12" r="0.54" fill="#8f0506"/><circle cx="570.9" cy="376.11" r="0.58" fill="#520202"/><circle cx="565.9" cy="371.13" r="0.55" fill="#660303"/><circle cx="574.97" cy="381.61" r="0.39" fill="#5d0203"/><circle cx="554.35" cy="362.14" r="0.28" fill="#650303"/><circle cx="575.53" cy="365.35" r="0.29" fill="#530202"/><circle cx="573.38" cy="364.62" r="0.41" fill="#6e0304"/><circle cx="575.75" cy="383.74" r="0.5" fill="#640303"/><circle cx="579.33" cy="371.5" r="0.53" fill="#8d0506"/><circle cx="556.76" cy="381.71" r="0.31" fill="#760404"/><circle cx="567.44" cy="380.58" r="0.44" fill="#720304"/><circle cx="560.82" cy="381.88" r="0.34" fill="#7c0405"/><circle cx="558.72" cy="368.79" r="0.52" fill="#910506"/><circle cx="549.53" cy="382.73" r="0.48" fill="#510202"/><circle cx="561.43" cy="377.75" r="0.3" fill="#6c0304"/><circle cx="564.97" cy="380.36" r="0.4" fill="#850405"/><circle cx="553.3" cy="378.44" r="0.35" fill="#860405"/><circle cx="578.88" cy="384.71" r="0.41" fill="#6c0304"/><circle cx="572.17" cy="383.12" r="0.38" fill="#5c0203"/><circle cx="557.43" cy="378.12" r="0.47" fill="#5b0203"/><circle cx="564.06" cy="376.51" r="0.61" fill="#580203"/><circle cx="583.4" cy="373.8" r="0.34" fill="#850405"/><circle cx="579.92" cy="373.55" r="0.58" fill="#830405"/><circle cx="558.7" cy="382.98" r="0.28" fill="#5d0203"/><circle cx="564.14" cy="382.34" r="0.61" fill="#8d0506"/><circle cx="564.47" cy="383.2" r="0.32" fill="#750304"/><circle cx="569.12" cy="379.93" r="0.49" fill="#6c0304"/><circle cx="554.73" cy="366.58" r="0.45" fill="#6b0304"/><circle cx="562.82" cy="361.94" r="0.39" fill="#4f0202"/><circle cx="572.44" cy="378.53" r="0.36" fill="#5f0203"/><circle cx="564.7" cy="364.04" r="0.6" fill="#780404"/><circle cx="552.52" cy="374.41" r="0.54" fill="#800405"/><circle cx="572.26" cy="377.58" r="0.57" fill="#610303"/><circle cx="580.5" cy="360.93" r="0.43" fill="#900506"/><circle cx="548.04" cy="361.36" r="0.51" fill="#850405"/><circle cx="550.2" cy="371.24" r="0.63" fill="#7b0405"/><circle cx="557.71" cy="378.99" r="0.34" fill="#5f0203"/><circle cx="550.94" cy="369.98" r="0.38" fill="#790405"/><circle cx="550.97" cy="365.13" r="0.34" fill="#540202"/><circle cx="556.92" cy="372.37" r="0.44" fill="#5b0203"/><circle cx="561.72" cy="384.22" r="0.61" fill="#700304"/><circle cx="562.94" cy="364.61" r="0.32" fill="#770404"/><circle cx="551.25" cy="361.45" r="0.62" fill="#7f0405"/><circle cx="560.31" cy="368.56" r="0.4" fill="#6c0304"/><circle cx="571.43" cy="369.52" r="0.58" fill="#590203"/><circle cx="566.86" cy="359.76" r="0.53" fill="#890405"/><circle cx="558.42" cy="375.54" r="0.41" fill="#8e0506"/><circle cx="561.44" cy="367.15" r="0.51" fill="#750304"/><circle cx="573.15" cy="383.62" r="0.4" fill="#590203"/><circle cx="577.66" cy="379.61" r="0.51" fill="#770404"/><circle cx="557.86" cy="383.5" r="0.41" fill="#740304"/><circle cx="551.76" cy="362.52" r="0.56" fill="#8c0506"/><circle cx="545.74" cy="367.78" r="0.45" fill="#700304"/><circle cx="558.77" cy="382.25" r="0.46" fill="#670303"/><circle cx="580.67" cy="375.77" r="0.39" fill="#6f0304"/><circle cx="559.68" cy="375.01" r="0.36" fill="#850405"/><circle cx="559.04" cy="369.41" r="0.6" fill="#680303"/><circle cx="565.56" cy="366.58" r="0.57" fill="#650303"/><circle cx="550.9" cy="377.06" r="0.34" fill="#500202"/><circle cx="547" cy="379.98" r="0.35" fill="#590203"/><circle cx="546.93" cy="366.28" r="0.53" fill="#810405"/><circle cx="579.93" cy="383.56" r="0.6" fill="#740304"/><circle cx="548.17" cy="383" r="0.34" fill="#6c0304"/><circle cx="573.65" cy="381.32" r="0.3" fill="#690304"/><circle cx="578.48" cy="378.66" r="0.62" fill="#780404"/><circle cx="546.17" cy="361.02" r="0.28" fill="#570203"/><circle cx="572.11" cy="375.54" r="0.33" fill="#560202"/><circle cx="551.7" cy="375.01" r="0.62" fill="#7d0405"/><circle cx="558.66" cy="384.37" r="0.41" fill="#6c0304"/><circle cx="554.5" cy="365.49" r="0.63" fill="#920506"/><circle cx="572.02" cy="364.03" r="0.32" fill="#5b0203"/><circle cx="558.28" cy="378.25" r="0.46" fill="#530202"/><circle cx="571.04" cy="360.45" r="0.55" fill="#6d0304"/><circle cx="566.98" cy="371.03" r="0.49" fill="#8b0506"/><circle cx="557.74" cy="369.62" r="0.58" fill="#900506"/><circle cx="580.1" cy="373.79" r="0.33" fill="#580203"/><circle cx="559.53" cy="377.07" r="0.56" fill="#4f0202"/><circle cx="575.12" cy="372.63" r="0.56" fill="#4f0202"/><circle cx="560.73" cy="376.53" r="0.53" fill="#760404"/><circle cx="560.52" cy="383.89" r="0.6" fill="#900506"/><circle cx="568.51" cy="367.6" r="0.37" fill="#680304"/><circle cx="579.68" cy="379.64" r="0.57" fill="#850405"/><circle cx="583.04" cy="377.01" r="0.54" fill="#640303"/><circle cx="554.85" cy="375.06" r="0.58" fill="#590203"/><circle cx="563.61" cy="366.56" r="0.3" fill="#8e0506"/><circle cx="580.7" cy="378.75" r="0.54" fill="#590203"/><circle cx="566.89" cy="382.55" r="0.42" fill="#770404"/><circle cx="580.82" cy="361.81" r="0.31" fill="#840405"/><circle cx="555.41" cy="362.48" r="0.43" fill="#8b0506"/><circle cx="572.81" cy="366.09" r="0.5" fill="#810405"/><circle cx="548.48" cy="372.09" r="0.35" fill="#800405"/><circle cx="570.02" cy="366.63" r="0.6" fill="#680304"/><circle cx="581.2" cy="384.85" r="0.48" fill="#6c0304"/><circle cx="575.99" cy="378.79" r="0.58" fill="#6e0304"/><circle cx="560.23" cy="383.64" r="0.31" fill="#6f0304"/><circle cx="573.69" cy="363.27" r="0.29" fill="#7d0405"/><circle cx="582.95" cy="373.29" r="0.32" fill="#820405"/><circle cx="569.35" cy="369.13" r="0.56" fill="#600203"/><circle cx="545.99" cy="371.69" r="0.58" fill="#550202"/><circle cx="579.27" cy="360.47" r="0.44" fill="#6f0304"/><circle cx="572.51" cy="378.05" r="0.61" fill="#660303"/><circle cx="551.87" cy="363.06" r="0.31" fill="#870405"/><circle cx="551.9" cy="372.25" r="0.33" fill="#660303"/><circle cx="580.69" cy="371.59" r="0.36" fill="#850405"/><circle cx="580.02" cy="365.2" r="0.49" fill="#8d0506"/><circle cx="582.28" cy="379.11" r="0.46" fill="#7a0405"/><circle cx="577.78" cy="370.82" r="0.6" fill="#550202"/><circle cx="575.88" cy="376.85" r="0.35" fill="#820405"/><circle cx="562.63" cy="380.42" r="0.6" fill="#910506"/><circle cx="550.91" cy="376.9" r="0.42" fill="#750304"/><circle cx="551.19" cy="363.07" r="0.45" fill="#6f0304"/><circle cx="555.07" cy="368.9" r="0.54" fill="#750304"/><circle cx="567.51" cy="363.7" r="0.4" fill="#8c0506"/><circle cx="581.84" cy="384.44" r="0.48" fill="#580203"/><circle cx="582.12" cy="369.34" r="0.38" fill="#740304"/><circle cx="545.81" cy="364.78" r="0.37" fill="#570203"/><circle cx="569.06" cy="373.84" r="0.52" fill="#900506"/><circle cx="558.72" cy="383.62" r="0.47" fill="#7a0405"/><circle cx="578.08" cy="376.55" r="0.49" fill="#670303"/><circle cx="556.32" cy="384.12" r="0.62" fill="#5f0203"/><circle cx="547.19" cy="359.85" r="0.34" fill="#750304"/><circle cx="564.34" cy="362.59" r="0.51" fill="#880405"/><circle cx="571.18" cy="383.04" r="0.51" fill="#930506"/><circle cx="572.3" cy="359.64" r="0.42" fill="#520202"/><circle cx="582.2" cy="367.52" r="0.27" fill="#760404"/><circle cx="560.79" cy="382.43" r="0.57" fill="#770404"/><circle cx="545.21" cy="364.73" r="0.57" fill="#5b0203"/><circle cx="548.63" cy="383.18" r="0.59" fill="#610203"/><circle cx="564.65" cy="367.78" r="0.42" fill="#910506"/><circle cx="571.69" cy="361.3" r="0.62" fill="#880405"/><circle cx="548.98" cy="378.48" r="0.32" fill="#610303"/><circle cx="558.8" cy="376.34" r="0.63" fill="#900506"/><circle cx="583.15" cy="375.37" r="0.33" fill="#7c0405"/><circle cx="572.8" cy="373.55" r="0.59" fill="#670303"/><circle cx="554.57" cy="363.18" r="0.32" fill="#590203"/></g>
<rect x="580" y="384.2" width="1.9" height="0.5" fill="#777"/>
<rect x="585.1" y="358.8" width="39.9" height="26.9" fill="#020000"/>
<g filter="url(#soft)"><circle cx="608.44" cy="379.86" r="0.4" fill="#3c0101"/><circle cx="607.9" cy="373.78" r="0.41" fill="#420101"/><circle cx="586.48" cy="361.07" r="0.32" fill="#420101"/></g>
<rect x="620.8" y="384.2" width="1.9" height="0.5" fill="#777"/>
<rect x="418.9" y="387" width="40.8" height="26.9" fill="#070000"/>
<g filter="url(#soft)"><circle cx="449.37" cy="393.92" r="0.36" fill="#610303"/><circle cx="423.33" cy="399.88" r="0.39" fill="#4f0202"/><circle cx="449.69" cy="393.42" r="0.57" fill="#5b0203"/><circle cx="437.44" cy="400.53" r="0.49" fill="#660303"/><circle cx="426.79" cy="389.56" r="0.39" fill="#420101"/><circle cx="423.18" cy="404.22" r="0.38" fill="#500202"/><circle cx="439.78" cy="411.5" r="0.33" fill="#490102"/><circle cx="431.67" cy="396" r="0.52" fill="#650303"/><circle cx="436.51" cy="392" r="0.31" fill="#400101"/><circle cx="452.92" cy="404.2" r="0.5" fill="#450101"/><circle cx="421.99" cy="400.62" r="0.31" fill="#4c0102"/><circle cx="448.81" cy="405.93" r="0.33" fill="#540202"/><circle cx="445.95" cy="398.76" r="0.3" fill="#5a0203"/><circle cx="455.08" cy="387.89" r="0.41" fill="#480102"/><circle cx="427.48" cy="390.02" r="0.63" fill="#5b0203"/><circle cx="432.83" cy="394.54" r="0.35" fill="#5b0203"/><circle cx="435.41" cy="405.22" r="0.33" fill="#510202"/><circle cx="422.46" cy="401.54" r="0.6" fill="#680304"/><circle cx="423.62" cy="400.51" r="0.34" fill="#530202"/><circle cx="445.96" cy="400.34" r="0.38" fill="#610203"/><circle cx="456.31" cy="408.41" r="0.32" fill="#520202"/><circle cx="438.66" cy="391.01" r="0.52" fill="#5b0203"/><circle cx="442.36" cy="412.5" r="0.53" fill="#400101"/><circle cx="451.09" cy="390.66" r="0.29" fill="#4c0102"/><circle cx="442.55" cy="406.09" r="0.52" fill="#4d0202"/><circle cx="434.08" cy="405.82" r="0.62" fill="#4a0102"/><circle cx="436.87" cy="387.89" r="0.53" fill="#420101"/><circle cx="453.6" cy="403.91" r="0.58" fill="#450101"/><circle cx="447.8" cy="390.71" r="0.51" fill="#4e0202"/><circle cx="419.84" cy="388.87" r="0.58" fill="#4d0202"/></g>
<rect x="455.5" y="412.4" width="1.9" height="0.5" fill="#777"/>
<rect x="460.7" y="387" width="40.7" height="26.9" fill="#050000"/>
<g filter="url(#soft)"><circle cx="500.46" cy="395.85" r="0.55" fill="#6f0304"/><circle cx="495.33" cy="402.68" r="0.5" fill="#720304"/><circle cx="498.56" cy="402.12" r="0.46" fill="#4c0102"/><circle cx="480.38" cy="396.34" r="0.45" fill="#550202"/><circle cx="484.49" cy="393.43" r="0.45" fill="#500202"/><circle cx="481.2" cy="398.4" r="0.34" fill="#630303"/><circle cx="482.29" cy="394.78" r="0.52" fill="#680304"/><circle cx="492.04" cy="400.89" r="0.6" fill="#4e0202"/><circle cx="481.47" cy="397.29" r="0.41" fill="#510202"/><circle cx="489.21" cy="408.51" r="0.53" fill="#5a0203"/><circle cx="469.83" cy="399.24" r="0.38" fill="#540202"/><circle cx="475.55" cy="406.89" r="0.34" fill="#660303"/><circle cx="470.64" cy="407.65" r="0.51" fill="#620303"/><circle cx="486.34" cy="405.35" r="0.29" fill="#500202"/><circle cx="475.6" cy="388.62" r="0.46" fill="#720304"/><circle cx="487.7" cy="412.25" r="0.35" fill="#6a0304"/><circle cx="474.67" cy="390.55" r="0.54" fill="#690304"/><circle cx="480.57" cy="397.14" r="0.45" fill="#500202"/><circle cx="489.34" cy="410.45" r="0.58" fill="#6c0304"/><circle cx="478.67" cy="398.46" r="0.62" fill="#520202"/><circle cx="468.67" cy="391.79" r="0.6" fill="#500202"/><circle cx="494.84" cy="396.19" r="0.59" fill="#6c0304"/></g>
<rect x="497.2" y="412.4" width="1.9" height="0.5" fill="#777"/>
<rect x="502.2" y="387" width="40.5" height="26.9" fill="#0e0000"/>
<g filter="url(#soft)"><circle cx="519.62" cy="392.67" r="0.67" fill="#bf0709"/><circle cx="507.64" cy="410.64" r="0.69" fill="#9a0506"/><circle cx="526.16" cy="394.26" r="0.68" fill="#6b0304"/><circle cx="517.75" cy="388.08" r="0.91" fill="#930506"/><circle cx="515.95" cy="404.99" r="0.56" fill="#af0608"/><circle cx="503.79" cy="404.86" r="0.63" fill="#ad0608"/><circle cx="510.79" cy="409.44" r="0.59" fill="#cf080a"/><circle cx="525.8" cy="402.34" r="0.47" fill="#8d0506"/><circle cx="515.66" cy="404.1" r="0.76" fill="#ac0608"/><circle cx="507.76" cy="393.18" r="0.7" fill="#8c0506"/><circle cx="517.13" cy="410.63" r="1.04" fill="#760404"/><circle cx="512.35" cy="409.47" r="0.8" fill="#840405"/><circle cx="517.67" cy="388.76" r="0.94" fill="#c20709"/><circle cx="513.47" cy="407.44" r="1.04" fill="#9f0607"/><circle cx="505.12" cy="397.42" r="0.82" fill="#830405"/><circle cx="533.26" cy="409.11" r="0.68" fill="#a60607"/><circle cx="534.11" cy="390.45" r="0.9" fill="#860405"/><circle cx="520.13" cy="412.92" r="0.73" fill="#730304"/><circle cx="511.27" cy="387.85" r="0.5" fill="#740304"/><circle cx="517.35" cy="398.74" r="0.62" fill="#a20607"/><circle cx="530.31" cy="400.86" r="0.55" fill="#d7080a"/><circle cx="522.86" cy="400.29" r="0.97" fill="#930506"/><circle cx="511.15" cy="410" r="0.65" fill="#910506"/><circle cx="526.92" cy="402.05" r="0.5" fill="#890405"/><circle cx="540.16" cy="397.15" r="0.84" fill="#760404"/><circle cx="523.69" cy="396.09" r="0.96" fill="#8e0506"/><circle cx="516.17" cy="398.36" r="0.67" fill="#d4080a"/><circle cx="518.64" cy="391.9" r="0.85" fill="#b30708"/><circle cx="520.36" cy="398.07" r="0.92" fill="#830405"/><circle cx="520.79" cy="408.85" r="0.89" fill="#930506"/><circle cx="504.12" cy="393.36" r="0.86" fill="#d4080a"/><circle cx="529.28" cy="400.37" r="0.57" fill="#9e0507"/><circle cx="509.73" cy="404.12" r="0.61" fill="#b70708"/><circle cx="528.07" cy="391.24" r="0.55" fill="#ae0608"/><circle cx="522.82" cy="395.74" r="0.53" fill="#a70607"/><circle cx="521.8" cy="403.4" r="0.64" fill="#780404"/><circle cx="529.4" cy="401.62" r="0.92" fill="#ae0608"/><circle cx="525.23" cy="393.42" r="0.95" fill="#9b0506"/><circle cx="525.04" cy="406.85" r="0.72" fill="#920506"/><circle cx="540.73" cy="408.6" r="0.51" fill="#b20608"/><circle cx="526.8" cy="388.64" r="1.03" fill="#d1080a"/><circle cx="531.32" cy="394.57" r="0.56" fill="#c80809"/><circle cx="535.2" cy="400.97" r="0.98" fill="#6b0304"/><circle cx="520.12" cy="408.8" r="0.77" fill="#b60708"/><circle cx="536.55" cy="392.94" r="0.65" fill="#cd0809"/><circle cx="504.01" cy="396.32" r="0.49" fill="#710304"/><circle cx="527.28" cy="390.86" r="0.63" fill="#7b0405"/><circle cx="513.84" cy="411.08" r="0.97" fill="#ce0809"/><circle cx="541.5" cy="398.94" r="0.62" fill="#c20709"/><circle cx="539.04" cy="408.31" r="0.59" fill="#bb0708"/><circle cx="506.56" cy="411.2" r="0.82" fill="#a70607"/><circle cx="536.53" cy="391.43" r="0.73" fill="#b70708"/><circle cx="533.58" cy="399.34" r="1.02" fill="#7f0405"/><circle cx="513.94" cy="406.64" r="0.6" fill="#c60709"/><circle cx="530.04" cy="397.82" r="0.58" fill="#820405"/><circle cx="540.11" cy="397.12" r="0.75" fill="#a20607"/><circle cx="504.03" cy="406.86" r="0.98" fill="#bc0708"/><circle cx="516.89" cy="393.11" r="0.89" fill="#900506"/><circle cx="528.6" cy="398.07" r="0.54" fill="#a40607"/><circle cx="538.73" cy="399.74" r="0.92" fill="#a20607"/><circle cx="510.7" cy="406.08" r="0.94" fill="#910506"/><circle cx="506.67" cy="394.78" r="0.74" fill="#b00608"/><circle cx="517.66" cy="402.44" r="0.71" fill="#810405"/><circle cx="503.07" cy="408.01" r="0.95" fill="#860405"/><circle cx="524.48" cy="403.02" r="0.53" fill="#af0608"/><circle cx="533.23" cy="395.19" r="0.92" fill="#c90809"/><circle cx="529.38" cy="408.42" r="0.85" fill="#9a0506"/><circle cx="540.06" cy="392.58" r="0.7" fill="#740304"/><circle cx="522.82" cy="391.57" r="0.97" fill="#820405"/><circle cx="518.09" cy="391.57" r="0.8" fill="#7e0405"/><circle cx="510.39" cy="399.82" r="0.71" fill="#a50607"/><circle cx="522.59" cy="408.97" r="1.01" fill="#6b0304"/><circle cx="510.75" cy="388.77" r="0.79" fill="#bf0709"/><circle cx="523.92" cy="393.31" r="0.63" fill="#c00709"/><circle cx="531.28" cy="393.58" r="0.84" fill="#a90607"/><circle cx="517.46" cy="399.94" r="0.84" fill="#700304"/><circle cx="529.89" cy="391.68" r="0.89" fill="#a70607"/><circle cx="506.93" cy="409.02" r="0.48" fill="#ca0809"/><circle cx="512.66" cy="389.93" r="0.5" fill="#850405"/><circle cx="522.04" cy="394.13" r="0.73" fill="#8b0506"/><circle cx="517.45" cy="407.75" r="0.52" fill="#ba0708"/><circle cx="511.69" cy="388.01" r="0.51" fill="#8e0506"/><circle cx="530.12" cy="407.54" r="0.58" fill="#d8080a"/><circle cx="504.43" cy="406.95" r="1.01" fill="#970506"/><circle cx="518.27" cy="395.71" r="1.02" fill="#710304"/><circle cx="522.92" cy="398.95" r="0.91" fill="#9a0506"/><circle cx="535.32" cy="399.84" r="0.69" fill="#7d0405"/><circle cx="537.67" cy="398.11" r="0.79" fill="#b30608"/><circle cx="520.95" cy="402.34" r="0.78" fill="#850405"/><circle cx="536.64" cy="389.82" r="0.98" fill="#920506"/><circle cx="541.05" cy="388.14" r="0.83" fill="#af0608"/><circle cx="535.8" cy="399.69" r="0.63" fill="#780404"/><circle cx="530.72" cy="406.23" r="0.84" fill="#800405"/><circle cx="528.55" cy="404.44" r="0.71" fill="#6c0304"/><circle cx="515.64" cy="402.91" r="0.53" fill="#8f0506"/><circle cx="529.08" cy="395.06" r="0.63" fill="#c10709"/><circle cx="524.23" cy="408.25" r="0.89" fill="#760404"/><circle cx="505.65" cy="411.49" r="0.88" fill="#6c0304"/><circle cx="517.34" cy="392.35" r="0.75" fill="#950506"/><circle cx="519.14" cy="390.9" r="0.63" fill="#a30607"/><circle cx="540.63" cy="397.49" r="0.59" fill="#9a0506"/><circle cx="540.69" cy="395.94" r="0.95" fill="#b10608"/><circle cx="518.29" cy="406.91" r="0.52" fill="#880405"/><circle cx="504.64" cy="399.16" r="0.57" fill="#cb0809"/><circle cx="520.13" cy="407.1" r="0.54" fill="#880405"/><circle cx="523.2" cy="398.56" r="0.99" fill="#d2080a"/><circle cx="512.26" cy="401.99" r="0.47" fill="#980506"/><circle cx="520.28" cy="410.97" r="0.8" fill="#8b0506"/><circle cx="530.63" cy="389.4" r="0.52" fill="#d0080a"/><circle cx="514.73" cy="405.91" r="0.68" fill="#6b0304"/><circle cx="507.93" cy="399.78" r="0.54" fill="#6b0304"/><circle cx="511.65" cy="389.86" r="0.57" fill="#730304"/><circle cx="523.14" cy="391.26" r="0.7" fill="#c50709"/><circle cx="512.8" cy="393.9" r="0.48" fill="#c70709"/><circle cx="531.87" cy="390.27" r="0.69" fill="#d3080a"/><circle cx="526.25" cy="409.64" r="0.49" fill="#740304"/><circle cx="529.98" cy="402.67" r="0.62" fill="#ba0708"/><circle cx="522.33" cy="392.52" r="0.62" fill="#9a0506"/><circle cx="525.78" cy="395.37" r="0.84" fill="#880405"/><circle cx="506.33" cy="408.07" r="0.59" fill="#a00607"/><circle cx="507.47" cy="400.67" r="0.88" fill="#a10607"/><circle cx="517.54" cy="398.23" r="0.61" fill="#cd0809"/><circle cx="541.16" cy="410.38" r="1.02" fill="#d8080a"/><circle cx="513" cy="408.4" r="0.57" fill="#ad0608"/><circle cx="541.8" cy="404.19" r="0.78" fill="#c30709"/><circle cx="506.09" cy="409.64" r="0.61" fill="#7d0405"/><circle cx="526.97" cy="392.71" r="0.88" fill="#9d0507"/><circle cx="506.73" cy="404.51" r="0.74" fill="#750304"/><circle cx="528.26" cy="405.19" r="0.56" fill="#6e0304"/><circle cx="540.35" cy="397.69" r="0.67" fill="#990506"/><circle cx="530.08" cy="406.53" r="0.69" fill="#b20608"/><circle cx="525.15" cy="400.84" r="1.02" fill="#7e0405"/><circle cx="540.53" cy="407.47" r="0.73" fill="#d8080a"/><circle cx="535.64" cy="393.89" r="0.88" fill="#bc0708"/><circle cx="539.51" cy="408.88" r="0.61" fill="#cb0809"/></g>
<rect x="538.5" y="412.4" width="1.9" height="0.5" fill="#777"/>
<rect x="543.9" y="387" width="40.3" height="26.9" fill="#0b0000"/>
<g filter="url(#soft)"><circle cx="575.17" cy="399.83" r="0.45" fill="#520202"/><circle cx="575.62" cy="409.12" r="0.57" fill="#6c0304"/><circle cx="551.29" cy="391.74" r="0.38" fill="#5e0203"/><circle cx="557.73" cy="390.39" r="0.59" fill="#4a0102"/><circle cx="553.36" cy="409.25" r="0.64" fill="#520202"/><circle cx="556.41" cy="394.57" r="0.3" fill="#560202"/><circle cx="561.56" cy="397.41" r="0.64" fill="#430101"/><circle cx="559.22" cy="387.81" r="0.39" fill="#720304"/><circle cx="554.49" cy="388.41" r="0.58" fill="#470102"/><circle cx="567.22" cy="400.55" r="0.41" fill="#4e0202"/><circle cx="582.24" cy="397.22" r="0.65" fill="#730304"/><circle cx="549.52" cy="409.26" r="0.58" fill="#430101"/><circle cx="576.03" cy="405.4" r="0.63" fill="#5d0203"/><circle cx="550.67" cy="401.46" r="0.46" fill="#4f0202"/><circle cx="552.1" cy="405.72" r="0.61" fill="#5e0203"/><circle cx="569.01" cy="402.96" r="0.62" fill="#700304"/><circle cx="566.63" cy="396.05" r="0.45" fill="#700304"/><circle cx="548.65" cy="396.23" r="0.67" fill="#650303"/><circle cx="569.69" cy="404.56" r="0.61" fill="#700304"/><circle cx="561.94" cy="399.48" r="0.43" fill="#680303"/><circle cx="548.95" cy="403.48" r="0.4" fill="#6a0304"/><circle cx="571.16" cy="410.38" r="0.35" fill="#490102"/><circle cx="563.78" cy="396.26" r="0.7" fill="#710304"/><circle cx="561.95" cy="407.87" r="0.37" fill="#610303"/><circle cx="582.31" cy="392.21" r="0.48" fill="#460102"/><circle cx="545.39" cy="399.96" r="0.68" fill="#570202"/><circle cx="560.71" cy="409.3" r="0.53" fill="#690304"/><circle cx="553.9" cy="395.51" r="0.46" fill="#5a0203"/><circle cx="569.68" cy="400.59" r="0.54" fill="#520202"/><circle cx="583.27" cy="392.92" r="0.3" fill="#530202"/><circle cx="548.33" cy="389.2" r="0.63" fill="#570203"/><circle cx="571.7" cy="412.24" r="0.53" fill="#6b0304"/><circle cx="567.16" cy="388.12" r="0.4" fill="#550202"/><circle cx="568.72" cy="389.46" r="0.45" fill="#5d0203"/><circle cx="563.74" cy="398.03" r="0.59" fill="#470102"/><circle cx="575.67" cy="402.93" r="0.54" fill="#480102"/><circle cx="578.41" cy="412.76" r="0.32" fill="#680303"/><circle cx="578.7" cy="404.62" r="0.67" fill="#500202"/><circle cx="576.67" cy="410.45" r="0.53" fill="#4e0202"/><circle cx="559.36" cy="395.29" r="0.55" fill="#680303"/><circle cx="557.54" cy="401.54" r="0.53" fill="#700304"/><circle cx="580.05" cy="402.12" r="0.31" fill="#730304"/><circle cx="562.5" cy="401.77" r="0.69" fill="#660303"/><circle cx="568.82" cy="399.89" r="0.51" fill="#610303"/><circle cx="571.98" cy="411.76" r="0.43" fill="#430101"/><circle cx="578.62" cy="389.31" r="0.31" fill="#690304"/><circle cx="569.78" cy="408.05" r="0.45" fill="#4e0202"/><circle cx="553.46" cy="405.63" r="0.54" fill="#5c0203"/><circle cx="557.3" cy="402.64" r="0.61" fill="#710304"/><circle cx="581.53" cy="394.05" r="0.45" fill="#5c0203"/><circle cx="558.09" cy="408.13" r="0.52" fill="#4b0102"/><circle cx="574.66" cy="411.47" r="0.41" fill="#430101"/><circle cx="563.78" cy="411.49" r="0.64" fill="#4a0102"/><circle cx="560.07" cy="401.66" r="0.33" fill="#700304"/><circle cx="557.45" cy="391.74" r="0.42" fill="#490102"/><circle cx="571.82" cy="402.48" r="0.62" fill="#480102"/><circle cx="564.33" cy="391.42" r="0.63" fill="#6b0304"/><circle cx="553.09" cy="411.57" r="0.39" fill="#6a0304"/><circle cx="544.74" cy="409.74" r="0.34" fill="#6b0304"/><circle cx="574.36" cy="407.36" r="0.63" fill="#610303"/><circle cx="582.81" cy="396.09" r="0.67" fill="#6b0304"/><circle cx="556.83" cy="405.09" r="0.64" fill="#640303"/><circle cx="566.64" cy="394.77" r="0.52" fill="#4f0202"/><circle cx="549.94" cy="409.55" r="0.4" fill="#6e0304"/><circle cx="571.68" cy="404.83" r="0.61" fill="#480102"/><circle cx="574.36" cy="395.55" r="0.41" fill="#470102"/><circle cx="574.56" cy="399.61" r="0.36" fill="#6a0304"/><circle cx="548.82" cy="396.63" r="0.36" fill="#6e0304"/><circle cx="547.54" cy="406.85" r="0.57" fill="#470102"/><circle cx="547.93" cy="394.05" r="0.65" fill="#630303"/><circle cx="560.54" cy="399.17" r="0.44" fill="#440101"/><circle cx="554.07" cy="407.75" r="0.61" fill="#650303"/><circle cx="565.28" cy="405.49" r="0.45" fill="#490102"/><circle cx="556.04" cy="394.94" r="0.39" fill="#670303"/><circle cx="557.29" cy="394.95" r="0.56" fill="#6d0304"/><circle cx="563.3" cy="397.41" r="0.68" fill="#700304"/><circle cx="562.1" cy="402.14" r="0.4" fill="#6d0304"/><circle cx="554.71" cy="390.41" r="0.61" fill="#5b0203"/><circle cx="550.76" cy="398.74" r="0.49" fill="#730304"/><circle cx="559.5" cy="409.04" r="0.45" fill="#6e0304"/><circle cx="549.48" cy="403.9" r="0.67" fill="#670303"/><circle cx="570.24" cy="395.59" r="0.42" fill="#5c0203"/><circle cx="561.96" cy="399.64" r="0.66" fill="#6f0304"/><circle cx="580.55" cy="399.89" r="0.36" fill="#720304"/><circle cx="580.35" cy="404" r="0.47" fill="#6d0304"/></g>
<rect x="580" y="412.4" width="1.9" height="0.5" fill="#777"/>
<rect x="585.1" y="387" width="39.9" height="26.9" fill="#020000"/>
<g filter="url(#soft)"><circle cx="623.85" cy="388.43" r="0.5" fill="#4f0202"/><circle cx="600.23" cy="408.77" r="0.48" fill="#3c0101"/><circle cx="603.84" cy="398.2" r="0.5" fill="#3c0101"/></g>
<rect x="620.8" y="412.4" width="1.9" height="0.5" fill="#777"/>
<g font-family="'Liberation Sans', sans-serif" font-weight="bold" font-size="4.6" fill="#fff" text-anchor="middle" text-rendering="geometricPrecision">
<rect x="418.9" y="265" width="40.8" height="8.1" fill="#C00000"/>
<text x="439.3" y="270.6">Initial</text>
<rect x="460.7" y="265" width="40.7" height="8.1" fill="#FFC000"/>
<text x="481.05" y="270.6">Mouth</text>
<rect x="502.2" y="265" width="40.5" height="8.1" fill="#00B050"/>
<text x="522.45" y="270.6">Stomach</text>
<rect x="543.9" y="265" width="40.3" height="8.1" fill="#0070C0"/>
<text x="564.05" y="270.6">Intestine 1</text>
<rect x="585.1" y="265" width="39.9" height="8.1" fill="#7030A0"/>
<text x="605.05" y="270.6">Intestine 2</text>
<rect x="409.8" y="274.1" width="8" height="26.5" fill="#C00000"/>
<text transform="translate(415.3 287.55) rotate(-90)">Control</text>
<rect x="409.8" y="302.3" width="8" height="26.5" fill="#FFC000"/>
<text transform="translate(415.3 315.75) rotate(-90)">FUC</text>
<rect x="409.8" y="330.5" width="8" height="26.5" fill="#00B050"/>
<text transform="translate(415.3 343.95) rotate(-90)">ICA</text>
<rect x="409.8" y="358.8" width="8" height="26.5" fill="#0070C0"/>
<text transform="translate(415.3 372.25) rotate(-90)">KCA</text>
<rect x="409.8" y="387" width="8" height="26.5" fill="#7030A0"/>
<text transform="translate(415.3 400.45) rotate(-90)">ALG</text>
</g>
<rect x="6.2" y="451.2" width="625.2" height="40.9" rx="7" ry="7" fill="#C00000"/>
<text y="477.2" font-family="'Liberation Sans', sans-serif" font-size="15" fill="#fff" stroke="#fff" stroke-width="0.2"><tspan x="21.1">Multilayer </tspan><tspan x="90.8">emulsion </tspan><tspan x="155.8">with </tspan><tspan x="187.6">targeted </tspan><tspan x="248">function </tspan><tspan x="305.5">could </tspan><tspan x="346.9">be </tspan><tspan x="368.3">fabricated </tspan><tspan x="438.9">by </tspan><tspan x="459.5">specific </tspan><tspan x="514.9">polysaccharide</tspan></text>
<rect x="0" y="494.9" width="639" height="1.1" fill="#3a3a3a"/>
<rect x="637.9" y="0" width="1.1" height="496" fill="#3a3a3a"/>
</svg>
</body>
</html>
